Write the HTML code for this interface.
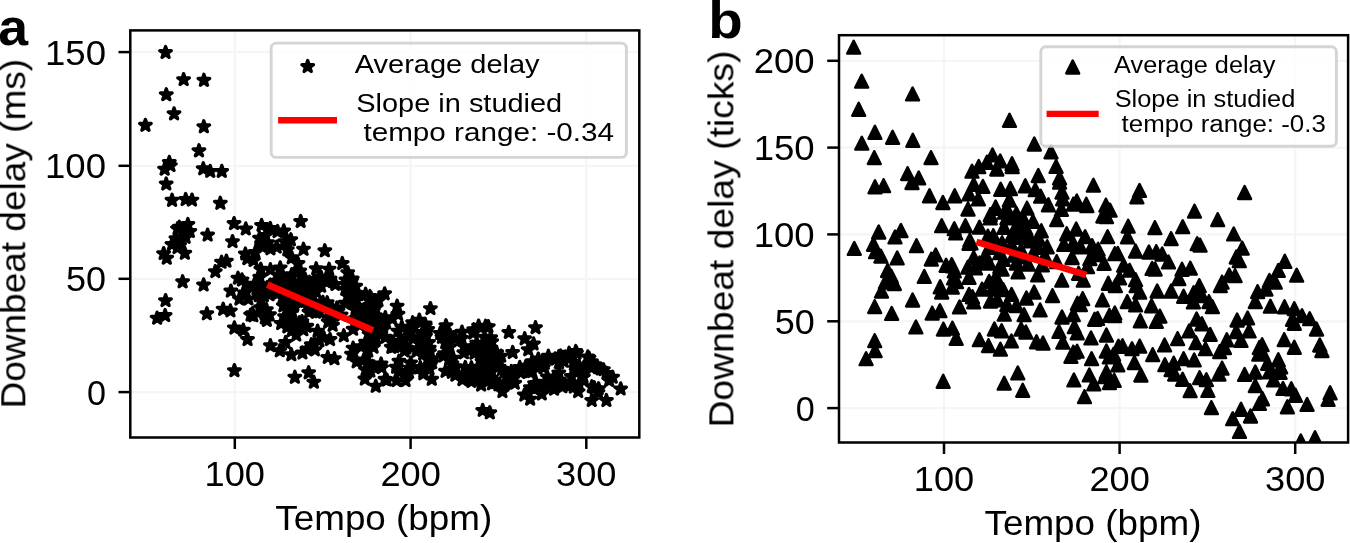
<!DOCTYPE html><html><head><meta charset="utf-8"><title>Downbeat delay vs tempo</title>
<style>html,body{margin:0;padding:0;background:#fff;}svg{display:block;font-family:"Liberation Sans", sans-serif;}text{fill:#000;white-space:pre;}</style></head><body>
<svg width="1350" height="543" viewBox="0 0 1350 543">
<defs><filter id="gs" x="-10%" y="-20%" width="120%" height="140%" color-interpolation-filters="sRGB"><feColorMatrix type="saturate" values="0"/></filter></defs>
<rect width="1350" height="543" fill="#fff"/>
<g id="panelA">
<g stroke="#f5f5f5" stroke-width="2.2">
<line x1="234.8" y1="30.4" x2="234.8" y2="437.5"/>
<line x1="410.6" y1="30.4" x2="410.6" y2="437.5"/>
<line x1="586.3" y1="30.4" x2="586.3" y2="437.5"/>
<line x1="130.3" y1="392.1" x2="639.3" y2="392.1"/>
<line x1="130.3" y1="278.8" x2="639.3" y2="278.8"/>
<line x1="130.3" y1="165.8" x2="639.3" y2="165.8"/>
<line x1="130.3" y1="52.1" x2="639.3" y2="52.1"/>
</g>
<clipPath id="ca"><rect x="130.3" y="30.4" width="509.0" height="407.1"/></clipPath>
<path clip-path="url(#ca)" fill="#000" stroke="#000" stroke-width="3.3" stroke-linejoin="round" d="M165.6 46.5L166.9 50.6L171.3 50.6L167.8 53.2L169.1 57.4L165.6 54.8L162.0 57.4L163.4 53.2L159.8 50.6L164.2 50.6ZM183.6 73.6L185.0 77.8L189.4 77.8L185.8 80.3L187.2 84.5L183.6 81.9L180.1 84.5L181.4 80.3L177.9 77.8L182.3 77.8ZM203.9 74.3L205.3 78.5L209.7 78.5L206.1 81.1L207.5 85.3L203.9 82.7L200.4 85.3L201.7 81.1L198.2 78.5L202.6 78.5ZM166.3 88.7L167.7 92.9L172.1 92.9L168.5 95.5L169.9 99.6L166.3 97.1L162.7 99.6L164.1 95.5L160.5 92.9L164.9 92.9ZM174.1 107.9L175.4 112.0L179.8 112.0L176.3 114.6L177.6 118.8L174.1 116.2L170.5 118.8L171.9 114.6L168.3 112.0L172.7 112.0ZM145.4 119.4L146.8 123.5L151.2 123.5L147.6 126.1L149.0 130.3L145.4 127.7L141.9 130.3L143.2 126.1L139.7 123.5L144.0 123.5ZM203.8 120.8L205.2 125.0L209.6 125.0L206.0 127.5L207.4 131.7L203.8 129.1L200.3 131.7L201.6 127.5L198.1 125.0L202.5 125.0ZM199.0 144.8L200.3 149.0L204.7 149.0L201.2 151.6L202.5 155.8L199.0 153.2L195.4 155.8L196.8 151.6L193.2 149.0L197.6 149.0ZM169.3 156.4L170.7 160.6L175.1 160.6L171.5 163.2L172.9 167.3L169.3 164.8L165.8 167.3L167.1 163.2L163.6 160.6L168.0 160.6ZM164.6 163.1L166.0 167.3L170.4 167.3L166.8 169.9L168.2 174.1L164.6 171.5L161.1 174.1L162.4 169.9L158.9 167.3L163.3 167.3ZM170.5 159.6L171.8 163.8L176.2 163.8L172.7 166.4L174.0 170.5L170.5 168.0L166.9 170.5L168.3 166.4L164.7 163.8L169.1 163.8ZM166.2 178.0L167.6 182.2L172.0 182.2L168.4 184.8L169.8 188.9L166.2 186.4L162.7 188.9L164.0 184.8L160.5 182.2L164.9 182.2ZM203.3 162.7L204.6 166.9L209.0 166.9L205.5 169.5L206.8 173.7L203.3 171.1L199.7 173.7L201.1 169.5L197.5 166.9L201.9 166.9ZM210.2 165.4L211.6 169.6L216.0 169.6L212.4 172.1L213.8 176.3L210.2 173.7L206.7 176.3L208.0 172.1L204.5 169.6L208.9 169.6ZM221.8 165.4L223.1 169.6L227.5 169.6L224.0 172.1L225.3 176.3L221.8 173.7L218.2 176.3L219.6 172.1L216.0 169.6L220.4 169.6ZM172.1 194.3L173.4 198.5L177.8 198.5L174.3 201.1L175.6 205.3L172.1 202.7L168.5 205.3L169.9 201.1L166.3 198.5L170.7 198.5ZM185.7 193.5L187.1 197.7L191.5 197.7L187.9 200.3L189.3 204.5L185.7 201.9L182.1 204.5L183.5 200.3L179.9 197.7L184.3 197.7ZM192.0 194.1L193.3 198.3L197.7 198.3L194.2 200.9L195.5 205.0L192.0 202.5L188.4 205.0L189.8 200.9L186.2 198.3L190.6 198.3ZM220.3 197.3L221.7 201.5L226.1 201.5L222.5 204.1L223.9 208.2L220.3 205.7L216.8 208.2L218.1 204.1L214.6 201.5L219.0 201.5ZM234.1 217.6L235.4 221.7L239.8 221.7L236.3 224.3L237.6 228.5L234.1 225.9L230.5 228.5L231.9 224.3L228.3 221.7L232.7 221.7ZM245.8 222.9L247.2 227.1L251.5 227.1L248.0 229.7L249.3 233.8L245.8 231.3L242.2 233.8L243.6 229.7L240.0 227.1L244.4 227.1ZM207.6 229.1L209.0 233.2L213.4 233.2L209.8 235.8L211.2 240.0L207.6 237.4L204.1 240.0L205.4 235.8L201.9 233.2L206.3 233.2ZM232.5 235.6L233.9 239.8L238.3 239.8L234.7 242.3L236.1 246.5L232.5 243.9L229.0 246.5L230.3 242.3L226.8 239.8L231.2 239.8ZM187.9 218.5L189.3 222.6L193.7 222.6L190.1 225.2L191.5 229.4L187.9 226.8L184.4 229.4L185.7 225.2L182.2 222.6L186.6 222.6ZM179.3 221.3L180.6 225.5L185.0 225.5L181.5 228.0L182.8 232.2L179.3 229.6L175.7 232.2L177.1 228.0L173.5 225.5L177.9 225.5ZM177.6 222.8L178.9 227.0L183.3 227.0L179.8 229.6L181.1 233.8L177.6 231.2L174.0 233.8L175.4 229.6L171.8 227.0L176.2 227.0ZM189.9 225.4L191.2 229.6L195.6 229.6L192.0 232.2L193.4 236.4L189.9 233.8L186.3 236.4L187.7 232.2L184.1 229.6L188.5 229.6ZM182.6 226.2L184.0 230.4L188.3 230.4L184.8 232.9L186.1 237.1L182.6 234.5L179.0 237.1L180.4 232.9L176.8 230.4L181.2 230.4ZM185.6 231.4L186.9 235.5L191.3 235.5L187.8 238.1L189.1 242.3L185.6 239.7L182.0 242.3L183.4 238.1L179.8 235.5L184.2 235.5ZM175.9 232.8L177.3 237.0L181.7 237.0L178.1 239.6L179.5 243.8L175.9 241.2L172.4 243.8L173.7 239.6L170.2 237.0L174.6 237.0ZM172.0 238.4L173.4 242.6L177.8 242.6L174.2 245.2L175.6 249.3L172.0 246.8L168.4 249.3L169.8 245.2L166.2 242.6L170.6 242.6ZM179.6 239.5L181.0 243.7L185.4 243.7L181.8 246.3L183.2 250.5L179.6 247.9L176.1 250.5L177.4 246.3L173.9 243.7L178.3 243.7ZM163.7 247.6L165.1 251.8L169.5 251.8L165.9 254.3L167.3 258.5L163.7 255.9L160.1 258.5L161.5 254.3L157.9 251.8L162.3 251.8ZM184.8 247.2L186.2 251.4L190.6 251.4L187.0 254.0L188.4 258.2L184.8 255.6L181.3 258.2L182.6 254.0L179.1 251.4L183.5 251.4ZM166.7 252.2L168.1 256.4L172.5 256.4L168.9 258.9L170.3 263.1L166.7 260.5L163.2 263.1L164.5 258.9L161.0 256.4L165.4 256.4ZM177.6 241.5L178.9 245.7L183.3 245.7L179.8 248.3L181.1 252.5L177.6 249.9L174.0 252.5L175.4 248.3L171.8 245.7L176.2 245.7ZM245.4 248.0L246.7 252.2L251.1 252.2L247.6 254.8L248.9 258.9L245.4 256.4L241.8 258.9L243.2 254.8L239.6 252.2L244.0 252.2ZM247.3 252.6L248.7 256.8L253.1 256.8L249.5 259.4L250.9 263.6L247.3 261.0L243.8 263.6L245.1 259.4L241.6 256.8L246.0 256.8ZM221.6 256.3L222.9 260.4L227.3 260.4L223.8 263.0L225.1 267.2L221.6 264.6L218.0 267.2L219.4 263.0L215.8 260.4L220.2 260.4ZM226.4 255.1L227.8 259.3L232.2 259.3L228.6 261.9L230.0 266.1L226.4 263.5L222.9 266.1L224.2 261.9L220.7 259.3L225.1 259.3ZM215.3 265.6L216.7 269.8L221.1 269.8L217.5 272.4L218.9 276.5L215.3 274.0L211.8 276.5L213.1 272.4L209.6 269.8L214.0 269.8ZM182.6 275.8L184.0 280.0L188.4 280.0L184.8 282.6L186.2 286.8L182.6 284.2L179.1 286.8L180.4 282.6L176.9 280.0L181.3 280.0ZM203.6 278.9L205.0 283.1L209.4 283.1L205.8 285.7L207.2 289.9L203.6 287.3L200.0 289.9L201.4 285.7L197.8 283.1L202.2 283.1ZM238.0 272.2L239.4 276.4L243.8 276.4L240.2 278.9L241.6 283.1L238.0 280.5L234.4 283.1L235.8 278.9L232.2 276.4L236.6 276.4ZM242.0 273.9L243.4 278.1L247.8 278.1L244.2 280.7L245.6 284.9L242.0 282.3L238.4 284.9L239.8 280.7L236.2 278.1L240.6 278.1ZM230.9 285.1L232.2 289.2L236.6 289.2L233.1 291.8L234.4 296.0L230.9 293.4L227.3 296.0L228.7 291.8L225.1 289.2L229.5 289.2ZM165.6 294.6L166.9 298.8L171.3 298.8L167.8 301.3L169.1 305.5L165.6 302.9L162.0 305.5L163.4 301.3L159.8 298.8L164.2 298.8ZM165.1 309.5L166.5 313.7L170.9 313.7L167.3 316.3L168.7 320.5L165.1 317.9L161.6 320.5L162.9 316.3L159.4 313.7L163.8 313.7ZM157.1 312.2L158.5 316.4L162.9 316.4L159.3 318.9L160.7 323.1L157.1 320.5L153.6 323.1L154.9 318.9L151.4 316.4L155.8 316.4ZM206.9 307.7L208.2 311.9L212.6 311.9L209.1 314.5L210.4 318.7L206.9 316.1L203.3 318.7L204.7 314.5L201.1 311.9L205.5 311.9ZM223.2 303.3L224.5 307.5L228.9 307.5L225.4 310.0L226.7 314.2L223.2 311.6L219.6 314.2L221.0 310.0L217.4 307.5L221.8 307.5ZM230.4 304.9L231.8 309.1L236.2 309.1L232.6 311.6L234.0 315.8L230.4 313.2L226.9 315.8L228.2 311.6L224.7 309.1L229.1 309.1ZM250.6 309.1L252.0 313.2L256.4 313.2L252.8 315.8L254.2 320.0L250.6 317.4L247.1 320.0L248.4 315.8L244.9 313.2L249.3 313.2ZM234.4 321.9L235.8 326.1L240.2 326.1L236.6 328.7L238.0 332.9L234.4 330.3L230.9 332.9L232.2 328.7L228.7 326.1L233.1 326.1ZM243.3 324.2L244.7 328.4L249.1 328.4L245.5 330.9L246.9 335.1L243.3 332.5L239.8 335.1L241.1 330.9L237.6 328.4L242.0 328.4ZM247.5 333.5L248.9 337.7L253.3 337.7L249.7 340.3L251.1 344.5L247.5 341.9L244.0 344.5L245.3 340.3L241.8 337.7L246.2 337.7ZM234.4 364.6L235.8 368.8L240.2 368.8L236.6 371.4L238.0 375.6L234.4 373.0L230.9 375.6L232.2 371.4L228.7 368.8L233.1 368.8ZM300.7 215.5L302.0 219.6L306.4 219.6L302.9 222.2L304.2 226.4L300.7 223.8L297.1 226.4L298.5 222.2L294.9 219.6L299.3 219.6ZM261.6 219.4L262.9 223.6L267.3 223.6L263.8 226.1L265.1 230.3L261.6 227.7L258.0 230.3L259.4 226.1L255.8 223.6L260.2 223.6ZM270.3 222.5L271.6 226.7L276.0 226.7L272.5 229.2L273.8 233.4L270.3 230.8L266.7 233.4L268.1 229.2L264.5 226.7L268.9 226.7ZM277.6 225.5L278.9 229.7L283.3 229.7L279.8 232.3L281.1 236.5L277.6 233.9L274.0 236.5L275.4 232.3L271.8 229.7L276.2 229.7ZM283.8 224.9L285.1 229.1L289.5 229.1L286.0 231.6L287.3 235.8L283.8 233.2L280.2 235.8L281.6 231.6L278.0 229.1L282.4 229.1ZM290.9 233.8L292.2 238.0L296.6 238.0L293.1 240.5L294.4 244.7L290.9 242.1L287.3 244.7L288.7 240.5L285.1 238.0L289.5 238.0ZM259.5 232.2L260.9 236.4L265.3 236.4L261.7 238.9L263.1 243.1L259.5 240.5L256.0 243.1L257.3 238.9L253.8 236.4L258.2 236.4ZM265.6 229.5L266.9 233.7L271.3 233.7L267.8 236.3L269.1 240.5L265.6 237.9L262.0 240.5L263.4 236.3L259.8 233.7L264.2 233.7ZM267.8 236.6L269.1 240.8L273.5 240.8L270.0 243.4L271.3 247.6L267.8 245.0L264.2 247.6L265.6 243.4L262.0 240.8L266.4 240.8ZM261.6 240.2L262.9 244.4L267.3 244.4L263.8 246.9L265.1 251.1L261.6 248.5L258.0 251.1L259.4 246.9L255.8 244.4L260.2 244.4ZM284.7 235.7L286.0 239.9L290.4 239.9L286.9 242.5L288.2 246.7L284.7 244.1L281.1 246.7L282.5 242.5L278.9 239.9L283.3 239.9ZM276.7 241.1L278.0 245.2L282.4 245.2L278.9 247.8L280.2 252.0L276.7 249.4L273.1 252.0L274.5 247.8L270.9 245.2L275.3 245.2ZM287.3 243.7L288.7 247.9L293.1 247.9L289.5 250.5L290.9 254.7L287.3 252.1L283.8 254.7L285.1 250.5L281.6 247.9L286.0 247.9ZM303.5 243.3L304.9 247.5L309.3 247.5L305.7 250.0L307.1 254.2L303.5 251.6L300.0 254.2L301.3 250.0L297.8 247.5L302.2 247.5ZM324.8 244.8L326.2 249.0L330.6 249.0L327.0 251.6L328.4 255.7L324.8 253.2L321.3 255.7L322.6 251.6L319.1 249.0L323.5 249.0ZM342.3 257.5L343.6 261.7L348.0 261.7L344.5 264.3L345.8 268.5L342.3 265.9L338.7 268.5L340.1 264.3L336.5 261.7L340.9 261.7ZM316.2 262.8L317.6 267.0L322.0 267.0L318.4 269.6L319.8 273.8L316.2 271.2L312.7 273.8L314.0 269.6L310.5 267.0L314.9 267.0ZM329.1 263.3L330.5 267.5L334.9 267.5L331.3 270.0L332.7 274.2L329.1 271.6L325.6 274.2L326.9 270.0L323.4 267.5L327.8 267.5ZM291.8 251.7L293.1 255.9L297.5 255.9L294.0 258.5L295.3 262.7L291.8 260.1L288.2 262.7L289.6 258.5L286.0 255.9L290.4 255.9ZM270.4 263.7L271.8 267.9L276.2 267.9L272.6 270.5L274.0 274.7L270.4 272.1L266.9 274.7L268.2 270.5L264.7 267.9L269.1 267.9ZM280.2 261.9L281.6 266.1L286.0 266.1L282.4 268.7L283.8 272.9L280.2 270.3L276.7 272.9L278.0 268.7L274.5 266.1L278.9 266.1ZM298.0 257.5L299.4 261.7L303.8 261.7L300.2 264.3L301.6 268.5L298.0 265.9L294.4 268.5L295.8 264.3L292.2 261.7L296.6 261.7ZM347.8 266.8L349.1 271.0L353.5 271.0L350.0 273.6L351.3 277.8L347.8 275.2L344.2 277.8L345.6 273.6L342.0 271.0L346.4 271.0ZM352.2 273.1L353.6 277.2L358.0 277.2L354.4 279.8L355.8 284.0L352.2 281.4L348.7 284.0L350.0 279.8L346.5 277.2L350.9 277.2ZM355.8 280.2L357.1 284.4L361.5 284.4L358.0 286.9L359.3 291.1L355.8 288.5L352.2 291.1L353.6 286.9L350.0 284.4L354.4 284.4ZM260.8 263.3L262.2 267.5L266.6 267.5L263.0 270.0L264.4 274.2L260.8 271.6L257.3 274.2L258.6 270.0L255.1 267.5L259.5 267.5ZM261.6 237.5L262.9 241.7L267.3 241.7L263.8 244.3L265.1 248.5L261.6 245.9L258.0 248.5L259.4 244.3L255.8 241.7L260.2 241.7ZM270.4 242.8L271.8 247.0L276.2 247.0L272.6 249.6L274.0 253.8L270.4 251.2L266.9 253.8L268.2 249.6L264.7 247.0L269.1 247.0ZM287.3 235.7L288.7 239.9L293.1 239.9L289.5 242.5L290.9 246.7L287.3 244.1L283.8 246.7L285.1 242.5L281.6 239.9L286.0 239.9ZM255.3 246.4L256.7 250.6L261.1 250.6L257.5 253.2L258.9 257.3L255.3 254.8L251.8 257.3L253.1 253.2L249.6 250.6L254.0 250.6ZM253.6 254.4L254.9 258.6L259.3 258.6L255.8 261.2L257.1 265.3L253.6 262.8L250.0 265.3L251.4 261.2L247.8 258.6L252.2 258.6ZM299.8 265.1L301.1 269.2L305.5 269.2L302.0 271.8L303.3 276.0L299.8 273.4L296.2 276.0L297.6 271.8L294.0 269.2L298.4 269.2ZM291.8 268.6L293.1 272.8L297.5 272.8L294.0 275.4L295.3 279.6L291.8 277.0L288.2 279.6L289.6 275.4L286.0 272.8L290.4 272.8ZM281.1 269.5L282.5 273.7L286.9 273.7L283.3 276.3L284.7 280.5L281.1 277.9L277.6 280.5L278.9 276.3L275.4 273.7L279.8 273.7ZM305.1 273.1L306.5 277.2L310.9 277.2L307.3 279.8L308.7 284.0L305.1 281.4L301.6 284.0L302.9 279.8L299.4 277.2L303.8 277.2ZM314.0 274.8L315.4 279.0L319.8 279.0L316.2 281.6L317.6 285.8L314.0 283.2L310.4 285.8L311.8 281.6L308.2 279.0L312.6 279.0ZM321.1 271.3L322.5 275.5L326.9 275.5L323.3 278.0L324.7 282.2L321.1 279.6L317.6 282.2L318.9 278.0L315.4 275.5L319.8 275.5ZM330.0 273.1L331.4 277.2L335.8 277.2L332.2 279.8L333.6 284.0L330.0 281.4L326.4 284.0L327.8 279.8L324.2 277.2L328.6 277.2ZM335.3 278.4L336.7 282.6L341.1 282.6L337.5 285.2L338.9 289.3L335.3 286.8L331.8 289.3L333.1 285.2L329.6 282.6L334.0 282.6ZM259.8 271.3L261.1 275.5L265.5 275.5L262.0 278.0L263.3 282.2L259.8 279.6L256.2 282.2L257.6 278.0L254.0 275.5L258.4 275.5ZM254.4 278.4L255.8 282.6L260.2 282.6L256.6 285.2L258.0 289.3L254.4 286.8L250.9 289.3L252.2 285.2L248.7 282.6L253.1 282.6ZM276.7 275.7L278.0 279.9L282.4 279.9L278.9 282.5L280.2 286.7L276.7 284.1L273.1 286.7L274.5 282.5L270.9 279.9L275.3 279.9ZM290.0 276.6L291.4 280.8L295.8 280.8L292.2 283.4L293.6 287.6L290.0 285.0L286.4 287.6L287.8 283.4L284.2 280.8L288.6 280.8ZM312.2 280.2L313.6 284.4L318.0 284.4L314.4 286.9L315.8 291.1L312.2 288.5L308.7 291.1L310.0 286.9L306.5 284.4L310.9 284.4ZM321.1 280.2L322.5 284.4L326.9 284.4L323.3 286.9L324.7 291.1L321.1 288.5L317.6 291.1L318.9 286.9L315.4 284.4L319.8 284.4ZM346.0 273.9L347.4 278.1L351.8 278.1L348.2 280.7L349.6 284.9L346.0 282.3L342.4 284.9L343.8 280.7L340.2 278.1L344.6 278.1ZM270.4 339.7L271.8 343.9L276.2 343.9L272.6 346.5L274.0 350.7L270.4 348.1L266.9 350.7L268.2 346.5L264.7 343.9L269.1 343.9ZM279.8 344.7L281.1 348.9L285.5 348.9L282.0 351.5L283.3 355.7L279.8 353.1L276.2 355.7L277.6 351.5L274.0 348.9L278.4 348.9ZM285.6 336.5L286.9 340.7L291.3 340.7L287.8 343.3L289.1 347.5L285.6 344.9L282.0 347.5L283.4 343.3L279.8 340.7L284.2 340.7ZM291.3 348.7L292.7 352.9L297.1 352.9L293.5 355.5L294.9 359.7L291.3 357.1L287.8 359.7L289.1 355.5L285.6 352.9L290.0 352.9ZM302.4 346.9L303.8 351.1L308.2 351.1L304.6 353.7L306.0 357.9L302.4 355.3L298.9 357.9L300.2 353.7L296.7 351.1L301.1 351.1ZM296.2 329.1L297.6 333.2L302.0 333.2L298.4 335.8L299.8 340.0L296.2 337.4L292.7 340.0L294.0 335.8L290.5 333.2L294.9 333.2ZM303.3 323.7L304.7 327.9L309.1 327.9L305.5 330.5L306.9 334.7L303.3 332.1L299.8 334.7L301.1 330.5L297.6 327.9L302.0 327.9ZM314.9 343.8L316.2 348.0L320.6 348.0L317.1 350.6L318.4 354.8L314.9 352.2L311.3 354.8L312.7 350.6L309.1 348.0L313.5 348.0ZM327.8 351.4L329.1 355.6L333.5 355.6L330.0 358.1L331.3 362.3L327.8 359.7L324.2 362.3L325.6 358.1L322.0 355.6L326.4 355.6ZM334.4 352.7L335.8 356.9L340.2 356.9L336.6 359.5L338.0 363.7L334.4 361.1L330.9 363.7L332.2 359.5L328.7 356.9L333.1 356.9ZM317.6 325.1L318.9 329.3L323.3 329.3L319.8 331.9L321.1 336.1L317.6 333.5L314.0 336.1L315.4 331.9L311.8 329.3L316.2 329.3ZM323.8 331.7L325.1 335.9L329.5 335.9L326.0 338.5L327.3 342.7L323.8 340.1L320.2 342.7L321.6 338.5L318.0 335.9L322.4 335.9ZM330.0 333.5L331.4 337.7L335.8 337.7L332.2 340.3L333.6 344.5L330.0 341.9L326.4 344.5L327.8 340.3L324.2 337.7L328.6 337.7ZM319.3 334.8L320.7 339.0L325.1 339.0L321.5 341.6L322.9 345.8L319.3 343.2L315.8 345.8L317.1 341.6L313.6 339.0L318.0 339.0ZM343.8 329.8L345.1 334.0L349.5 334.0L346.0 336.5L347.3 340.7L343.8 338.1L340.2 340.7L341.6 336.5L338.0 334.0L342.4 334.0ZM353.1 323.3L354.5 327.5L358.9 327.5L355.3 330.0L356.7 334.2L353.1 331.6L349.6 334.2L350.9 330.0L347.4 327.5L351.8 327.5ZM353.1 342.2L354.5 346.4L358.9 346.4L355.3 349.0L356.7 353.2L353.1 350.6L349.6 353.2L350.9 349.0L347.4 346.4L351.8 346.4ZM351.5 348.2L352.9 352.4L357.3 352.4L353.7 354.9L355.1 359.1L351.5 356.5L348.0 359.1L349.3 354.9L345.8 352.4L350.2 352.4ZM361.1 340.6L362.5 344.8L366.9 344.8L363.3 347.4L364.7 351.6L361.1 349.0L357.6 351.6L358.9 347.4L355.4 344.8L359.8 344.8ZM365.6 336.2L366.9 340.4L371.3 340.4L367.8 342.9L369.1 347.1L365.6 344.5L362.0 347.1L363.4 342.9L359.8 340.4L364.2 340.4ZM368.2 345.1L369.6 349.2L374.0 349.2L370.4 351.8L371.8 356.0L368.2 353.4L364.7 356.0L366.0 351.8L362.5 349.2L366.9 349.2ZM356.7 355.7L358.0 359.9L362.4 359.9L358.9 362.5L360.2 366.7L356.7 364.1L353.1 366.7L354.5 362.5L350.9 359.9L355.3 359.9ZM363.8 353.9L365.1 358.1L369.5 358.1L366.0 360.7L367.3 364.9L363.8 362.3L360.2 364.9L361.6 360.7L358.0 358.1L362.4 358.1ZM368.2 356.6L369.6 360.8L374.0 360.8L370.4 363.4L371.8 367.6L368.2 365.0L364.7 367.6L366.0 363.4L362.5 360.8L366.9 360.8ZM266.9 314.4L268.2 318.6L272.6 318.6L269.1 321.2L270.4 325.3L266.9 322.8L263.3 325.3L264.7 321.2L261.1 318.6L265.5 318.6ZM281.1 317.5L282.5 321.7L286.9 321.7L283.3 324.3L284.7 328.5L281.1 325.9L277.6 328.5L278.9 324.3L275.4 321.7L279.8 321.7ZM290.0 316.6L291.4 320.8L295.8 320.8L292.2 323.4L293.6 327.6L290.0 325.0L286.4 327.6L287.8 323.4L284.2 320.8L288.6 320.8ZM299.8 318.4L301.1 322.6L305.5 322.6L302.0 325.2L303.3 329.3L299.8 326.8L296.2 329.3L297.6 325.2L294.0 322.6L298.4 322.6ZM306.9 320.2L308.2 324.4L312.6 324.4L309.1 326.9L310.4 331.1L306.9 328.5L303.3 331.1L304.7 326.9L301.1 324.4L305.5 324.4ZM328.2 315.7L329.6 319.9L334.0 319.9L330.4 322.5L331.8 326.7L328.2 324.1L324.7 326.7L326.0 322.5L322.5 319.9L326.9 319.9ZM332.7 319.3L334.0 323.5L338.4 323.5L334.9 326.0L336.2 330.2L332.7 327.6L329.1 330.2L330.5 326.0L326.9 323.5L331.3 323.5ZM308.7 366.8L310.0 370.9L314.4 370.9L310.9 373.5L312.2 377.7L308.7 375.1L305.1 377.7L306.5 373.5L302.9 370.9L307.3 370.9ZM369.1 328.2L370.5 332.4L374.9 332.4L371.3 334.9L372.7 339.1L369.1 336.5L365.6 339.1L366.9 334.9L363.4 332.4L367.8 332.4ZM291.8 324.6L293.1 328.8L297.5 328.8L294.0 331.4L295.3 335.6L291.8 333.0L288.2 335.6L289.6 331.4L286.0 328.8L290.4 328.8ZM311.3 338.8L312.7 343.0L317.1 343.0L313.5 345.6L314.9 349.8L311.3 347.2L307.8 349.8L309.1 345.6L305.6 343.0L310.0 343.0ZM306.9 343.3L308.2 347.5L312.6 347.5L309.1 350.0L310.4 354.2L306.9 351.6L303.3 354.2L304.7 350.0L301.1 347.5L305.5 347.5ZM294.9 371.3L296.2 375.5L300.6 375.5L297.1 378.0L298.4 382.2L294.9 379.6L291.3 382.2L292.7 378.0L289.1 375.5L293.5 375.5ZM313.8 376.2L315.2 380.4L319.6 380.4L316.0 382.9L317.4 387.1L313.8 384.5L310.3 387.1L311.6 382.9L308.1 380.4L312.5 380.4ZM364.8 373.1L366.2 377.2L370.6 377.2L367.0 379.8L368.4 384.0L364.8 381.4L361.3 384.0L362.6 379.8L359.1 377.2L363.5 377.2ZM365.6 363.7L366.9 367.9L371.3 367.9L367.8 370.5L369.1 374.7L365.6 372.1L362.0 374.7L363.4 370.5L359.8 367.9L364.2 367.9ZM369.1 359.3L370.5 363.5L374.9 363.5L371.3 366.0L372.7 370.2L369.1 367.6L365.6 370.2L366.9 366.0L363.4 363.5L367.8 363.5ZM384.7 287.9L386.0 292.0L390.4 292.0L386.9 294.6L388.2 298.8L384.7 296.2L381.1 298.8L382.5 294.6L378.9 292.0L383.3 292.0ZM397.1 300.2L398.5 304.4L402.9 304.4L399.3 307.0L400.7 311.1L397.1 308.6L393.6 311.1L394.9 307.0L391.4 304.4L395.8 304.4ZM430.4 302.6L431.8 306.8L436.2 306.8L432.6 309.4L434.0 313.5L430.4 311.0L426.9 313.5L428.2 309.4L424.7 306.8L429.1 306.8ZM446.0 319.7L447.4 323.8L451.8 323.8L448.2 326.4L449.6 330.6L446.0 328.0L442.4 330.6L443.8 326.4L440.2 323.8L444.6 323.8ZM462.0 326.1L463.4 330.3L467.8 330.3L464.2 332.9L465.6 337.1L462.0 334.5L458.4 337.1L459.8 332.9L456.2 330.3L460.6 330.3ZM473.8 323.7L475.2 327.8L479.6 327.8L476.0 330.4L477.4 334.6L473.8 332.0L470.3 334.6L471.6 330.4L468.1 327.8L472.5 327.8ZM485.6 320.2L486.9 324.4L491.3 324.4L487.8 327.0L489.1 331.1L485.6 328.6L482.0 331.1L483.4 327.0L479.8 324.4L484.2 324.4ZM419.3 314.1L420.7 318.3L425.1 318.3L421.5 320.9L422.9 325.1L419.3 322.5L415.8 325.1L417.1 320.9L413.6 318.3L418.0 318.3ZM378.4 294.5L379.8 298.7L384.2 298.7L380.6 301.3L382.0 305.5L378.4 302.9L374.9 305.5L376.2 301.3L372.7 298.7L377.1 298.7ZM370.0 290.5L371.4 294.7L375.8 294.7L372.2 297.3L373.6 301.5L370.0 298.9L366.4 301.5L367.8 297.3L364.2 294.7L368.6 294.7ZM398.0 308.3L399.4 312.5L403.8 312.5L400.2 315.0L401.6 319.2L398.0 316.6L394.4 319.2L395.8 315.0L392.2 312.5L396.6 312.5ZM375.3 302.1L376.7 306.2L381.1 306.2L377.5 308.8L378.9 313.0L375.3 310.4L371.8 313.0L373.1 308.8L369.6 306.2L374.0 306.2ZM412.7 316.7L414.0 320.9L418.4 320.9L414.9 323.5L416.2 327.7L412.7 325.1L409.1 327.7L410.5 323.5L406.9 320.9L411.3 320.9ZM425.1 318.1L426.5 322.2L430.9 322.2L427.3 324.8L428.7 329.0L425.1 326.4L421.6 329.0L422.9 324.8L419.4 322.2L423.8 322.2ZM427.8 323.4L429.1 327.6L433.5 327.6L430.0 330.2L431.3 334.3L427.8 331.8L424.2 334.3L425.6 330.2L422.0 327.6L426.4 327.6ZM440.2 327.4L441.6 331.6L446.0 331.6L442.4 334.2L443.8 338.3L440.2 335.8L436.7 338.3L438.0 334.2L434.5 331.6L438.9 331.6ZM450.0 328.7L451.4 332.9L455.8 332.9L452.2 335.5L453.6 339.7L450.0 337.1L446.4 339.7L447.8 335.5L444.2 332.9L448.6 332.9ZM392.2 312.7L393.6 316.9L398.0 316.9L394.4 319.5L395.8 323.7L392.2 321.1L388.7 323.7L390.0 319.5L386.5 316.9L390.9 316.9ZM375.8 380.3L377.1 384.5L381.5 384.5L378.0 387.0L379.3 391.2L375.8 388.6L372.2 391.2L373.6 387.0L370.0 384.5L374.4 384.5ZM386.9 374.1L388.2 378.2L392.6 378.2L389.1 380.8L390.4 385.0L386.9 382.4L383.3 385.0L384.7 380.8L381.1 378.2L385.5 378.2ZM396.7 374.6L398.0 378.8L402.4 378.8L398.9 381.4L400.2 385.5L396.7 383.0L393.1 385.5L394.5 381.4L390.9 378.8L395.3 378.8ZM405.6 374.6L406.9 378.8L411.3 378.8L407.8 381.4L409.1 385.5L405.6 383.0L402.0 385.5L403.4 381.4L399.8 378.8L404.2 378.8ZM423.3 367.8L424.7 372.0L429.1 372.0L425.5 374.6L426.9 378.8L423.3 376.2L419.8 378.8L421.1 374.6L417.6 372.0L422.0 372.0ZM431.8 373.3L433.1 377.4L437.5 377.4L434.0 380.0L435.3 384.2L431.8 381.6L428.2 384.2L429.6 380.0L426.0 377.4L430.4 377.4ZM445.6 365.3L446.9 369.4L451.3 369.4L447.8 372.0L449.1 376.2L445.6 373.6L442.0 376.2L443.4 372.0L439.8 369.4L444.2 369.4ZM455.3 369.2L456.7 373.4L461.1 373.4L457.5 375.9L458.9 380.1L455.3 377.5L451.8 380.1L453.1 375.9L449.6 373.4L454.0 373.4ZM462.4 373.6L463.8 377.8L468.2 377.8L464.6 380.4L466.0 384.6L462.4 382.0L458.9 384.6L460.2 380.4L456.7 377.8L461.1 377.8ZM471.3 375.4L472.7 379.6L477.1 379.6L473.5 382.2L474.9 386.3L471.3 383.8L467.8 386.3L469.1 382.2L465.6 379.6L470.0 379.6ZM481.1 379.0L482.5 383.2L486.9 383.2L483.3 385.8L484.7 390.0L481.1 387.4L477.6 390.0L478.9 385.8L475.4 383.2L479.8 383.2ZM488.2 374.9L489.6 379.1L494.0 379.1L490.4 381.7L491.8 385.9L488.2 383.3L484.7 385.9L486.0 381.7L482.5 379.1L486.9 379.1ZM482.7 404.4L484.1 408.6L488.5 408.6L484.9 411.1L486.3 415.3L482.7 412.7L479.2 415.3L480.5 411.1L477.0 408.6L481.4 408.6ZM535.5 321.7L536.9 325.9L541.3 325.9L537.7 328.4L539.1 332.6L535.5 330.0L532.0 332.6L533.3 328.4L529.8 325.9L534.2 325.9ZM508.8 326.4L510.2 330.6L514.6 330.6L511.0 333.2L512.4 337.3L508.8 334.8L505.3 337.3L506.6 333.2L503.1 330.6L507.5 330.6ZM524.7 332.8L526.0 337.0L530.4 337.0L526.9 339.6L528.2 343.7L524.7 341.2L521.1 343.7L522.5 339.6L518.9 337.0L523.3 337.0ZM533.6 337.9L534.9 342.1L539.3 342.1L535.8 344.7L537.1 348.9L533.6 346.3L530.0 348.9L531.4 344.7L527.8 342.1L532.2 342.1ZM490.7 331.7L492.1 335.9L496.5 335.9L492.9 338.5L494.3 342.7L490.7 340.1L487.2 342.7L488.5 338.5L485.0 335.9L489.4 335.9ZM490.9 341.9L492.2 346.1L496.6 346.1L493.1 348.7L494.4 352.9L490.9 350.3L487.3 352.9L488.7 348.7L485.1 346.1L489.5 346.1ZM512.7 346.5L514.0 350.7L518.4 350.7L514.9 353.2L516.2 357.4L512.7 354.8L509.1 357.4L510.5 353.2L506.9 350.7L511.3 350.7ZM569.1 347.3L570.5 351.5L574.9 351.5L571.3 354.0L572.7 358.2L569.1 355.6L565.6 358.2L566.9 354.0L563.4 351.5L567.8 351.5ZM575.8 345.5L577.1 349.7L581.5 349.7L578.0 352.3L579.3 356.5L575.8 353.9L572.2 356.5L573.6 352.3L570.0 349.7L574.4 349.7ZM528.2 343.7L529.6 347.9L534.0 347.9L530.4 350.5L531.8 354.7L528.2 352.1L524.7 354.7L526.0 350.5L522.5 347.9L526.9 347.9ZM549.1 352.7L550.5 356.9L554.9 356.9L551.3 359.5L552.7 363.7L549.1 361.1L545.6 363.7L546.9 359.5L543.4 356.9L547.8 356.9ZM555.3 353.1L556.7 357.3L561.1 357.3L557.5 359.9L558.9 364.1L555.3 361.5L551.8 364.1L553.1 359.9L549.6 357.3L554.0 357.3ZM560.7 350.0L562.0 354.2L566.4 354.2L562.9 356.8L564.2 361.0L560.7 358.4L557.1 361.0L558.5 356.8L554.9 354.2L559.3 354.2ZM587.8 350.9L589.1 355.1L593.5 355.1L590.0 357.7L591.3 361.9L587.8 359.3L584.2 361.9L585.6 357.7L582.0 355.1L586.4 355.1ZM600.7 362.9L602.0 367.1L606.4 367.1L602.9 369.7L604.2 373.9L600.7 371.3L597.1 373.9L598.5 369.7L594.9 367.1L599.3 367.1ZM606.4 367.4L607.8 371.6L612.2 371.6L608.6 374.1L610.0 378.3L606.4 375.7L602.9 378.3L604.2 374.1L600.7 371.6L605.1 371.6ZM491.8 335.7L493.1 339.9L497.5 339.9L494.0 342.5L495.3 346.7L491.8 344.1L488.2 346.7L489.6 342.5L486.0 339.9L490.4 339.9ZM489.8 406.8L491.2 411.0L495.6 411.0L492.0 413.6L493.4 417.8L489.8 415.2L486.3 417.8L487.6 413.6L484.1 411.0L488.5 411.0ZM502.4 385.6L503.8 389.8L508.2 389.8L504.6 392.4L506.0 396.5L502.4 394.0L498.9 396.5L500.2 392.4L496.7 389.8L501.1 389.8ZM511.3 374.8L512.7 379.0L517.1 379.0L513.5 381.6L514.9 385.8L511.3 383.2L507.8 385.8L509.1 381.6L505.6 379.0L510.0 379.0ZM524.4 389.1L525.8 393.2L530.2 393.2L526.6 395.8L528.0 400.0L524.4 397.4L520.8 400.0L522.2 395.8L518.6 393.2L523.0 393.2ZM530.2 393.1L531.5 397.3L535.9 397.3L532.4 399.9L533.7 404.1L530.2 401.5L526.6 404.1L528.0 399.9L524.4 397.3L528.8 397.3ZM541.7 388.0L543.1 392.2L547.5 392.2L543.9 394.8L545.3 398.9L541.7 396.4L538.2 398.9L539.5 394.8L536.0 392.2L540.4 392.2ZM554.0 383.2L555.4 387.4L559.8 387.4L556.2 390.0L557.6 394.1L554.0 391.6L550.4 394.1L551.8 390.0L548.2 387.4L552.6 387.4ZM578.2 385.6L579.5 389.8L583.9 389.8L580.4 392.4L581.7 396.5L578.2 394.0L574.6 396.5L576.0 392.4L572.4 389.8L576.8 389.8ZM598.6 382.7L600.0 386.8L604.4 386.8L600.8 389.4L602.2 393.6L598.6 391.0L595.1 393.6L596.4 389.4L592.9 386.8L597.3 386.8ZM591.8 394.5L593.1 398.7L597.5 398.7L594.0 401.2L595.3 405.4L591.8 402.8L588.2 405.4L589.6 401.2L586.0 398.7L590.4 398.7ZM606.4 394.5L607.8 398.7L612.2 398.7L608.6 401.2L610.0 405.4L606.4 402.8L602.9 405.4L604.2 401.2L600.7 398.7L605.1 398.7ZM609.1 374.4L610.5 378.6L614.9 378.6L611.3 381.2L612.7 385.3L609.1 382.8L605.6 385.3L606.9 381.2L603.4 378.6L607.8 378.6ZM495.3 376.6L496.7 380.8L501.1 380.8L497.5 383.4L498.9 387.6L495.3 385.0L491.8 387.6L493.1 383.4L489.6 380.8L494.0 380.8ZM504.2 377.5L505.6 381.7L510.0 381.7L506.4 384.3L507.8 388.5L504.2 385.9L500.7 388.5L502.0 384.3L498.5 381.7L502.9 381.7ZM536.2 377.5L537.6 381.7L542.0 381.7L538.4 384.3L539.8 388.5L536.2 385.9L532.7 388.5L534.0 384.3L530.5 381.7L534.9 381.7ZM545.1 379.3L546.5 383.5L550.9 383.5L547.3 386.0L548.7 390.2L545.1 387.6L541.6 390.2L542.9 386.0L539.4 383.5L543.8 383.5ZM552.2 376.6L553.6 380.8L558.0 380.8L554.4 383.4L555.8 387.6L552.2 385.0L548.7 387.6L550.0 383.4L546.5 380.8L550.9 380.8ZM561.1 378.4L562.5 382.6L566.9 382.6L563.3 385.2L564.7 389.3L561.1 386.8L557.6 389.3L558.9 385.2L555.4 382.6L559.8 382.6ZM570.0 379.3L571.4 383.5L575.8 383.5L572.2 386.0L573.6 390.2L570.0 387.6L566.4 390.2L567.8 386.0L564.2 383.5L568.6 383.5ZM578.9 378.4L580.2 382.6L584.6 382.6L581.1 385.2L582.4 389.3L578.9 386.8L575.3 389.3L576.7 385.2L573.1 382.6L577.5 382.6ZM534.4 382.8L535.8 387.0L540.2 387.0L536.6 389.6L538.0 393.8L534.4 391.2L530.9 393.8L532.2 389.6L528.7 387.0L533.1 387.0ZM612.7 371.3L614.0 375.5L618.4 375.5L614.9 378.0L616.2 382.2L612.7 379.6L609.1 382.2L610.5 378.0L606.9 375.5L611.3 375.5ZM620.7 382.9L622.0 387.1L626.4 387.1L622.9 389.7L624.2 393.9L620.7 391.3L617.1 393.9L618.5 389.7L614.9 387.1L619.3 387.1ZM598.0 386.4L599.4 390.6L603.8 390.6L600.2 393.2L601.6 397.3L598.0 394.8L594.4 397.3L595.8 393.2L592.2 390.6L596.6 390.6ZM246.1 278.2L247.5 282.4L251.9 282.4L248.3 284.9L249.7 289.1L246.1 286.5L242.6 289.1L243.9 284.9L240.4 282.4L244.8 282.4ZM244.6 287.1L246.0 291.2L250.4 291.2L246.8 293.8L248.2 298.0L244.6 295.4L241.1 298.0L242.4 293.8L238.9 291.2L243.3 291.2ZM239.4 293.0L240.8 297.2L245.2 297.2L241.6 299.8L243.0 303.9L239.4 301.3L235.9 303.9L237.2 299.8L233.7 297.2L238.1 297.2ZM248.3 293.0L249.7 297.2L254.1 297.2L250.5 299.8L251.9 303.9L248.3 301.3L244.8 303.9L246.1 299.8L242.6 297.2L247.0 297.2ZM275.2 275.5L276.6 279.7L281.0 279.7L277.4 282.3L278.8 286.4L275.2 283.9L271.7 286.4L273.0 282.3L269.5 279.7L273.9 279.7ZM279.6 274.0L281.0 278.2L285.4 278.2L281.8 280.8L283.2 285.0L279.6 282.4L276.1 285.0L277.4 280.8L273.9 278.2L278.3 278.2ZM287.5 276.3L288.9 280.5L293.3 280.5L289.7 283.0L291.1 287.2L287.5 284.6L284.0 287.2L285.3 283.0L281.8 280.5L286.2 280.5ZM291.3 276.5L292.7 280.7L297.1 280.7L293.5 283.3L294.9 287.4L291.3 284.9L287.8 287.4L289.1 283.3L285.6 280.7L290.0 280.7ZM304.4 274.0L305.7 278.2L310.1 278.2L306.6 280.7L307.9 284.9L304.4 282.3L300.8 284.9L302.2 280.7L298.6 278.2L303.0 278.2ZM309.6 276.3L311.0 280.5L315.4 280.5L311.8 283.1L313.2 287.3L309.6 284.7L306.1 287.3L307.4 283.1L303.9 280.5L308.3 280.5ZM316.7 275.7L318.1 279.8L322.5 279.8L318.9 282.4L320.3 286.6L316.7 284.0L313.1 286.6L314.5 282.4L310.9 279.8L315.3 279.8ZM326.1 275.6L327.4 279.8L331.8 279.8L328.3 282.4L329.6 286.6L326.1 284.0L322.5 286.6L323.9 282.4L320.3 279.8L324.7 279.8ZM351.5 275.1L352.9 279.3L357.3 279.3L353.7 281.9L355.1 286.0L351.5 283.5L348.0 286.0L349.3 281.9L345.8 279.3L350.1 279.3ZM267.1 281.6L268.5 285.8L272.9 285.8L269.3 288.4L270.7 292.5L267.1 289.9L263.6 292.5L264.9 288.4L261.4 285.8L265.7 285.8ZM270.5 279.0L271.9 283.1L276.3 283.1L272.7 285.7L274.1 289.9L270.5 287.3L267.0 289.9L268.3 285.7L264.8 283.1L269.2 283.1ZM275.6 281.7L276.9 285.9L281.3 285.9L277.8 288.5L279.1 292.6L275.6 290.1L272.0 292.6L273.4 288.5L269.8 285.9L274.2 285.9ZM282.8 279.1L284.1 283.3L288.5 283.3L285.0 285.9L286.3 290.0L282.8 287.5L279.2 290.0L280.6 285.9L277.0 283.3L281.4 283.3ZM288.3 281.6L289.6 285.7L294.0 285.7L290.5 288.3L291.8 292.5L288.3 289.9L284.7 292.5L286.1 288.3L282.5 285.7L286.9 285.7ZM293.3 280.9L294.6 285.1L299.0 285.1L295.5 287.6L296.8 291.8L293.3 289.2L289.7 291.8L291.1 287.6L287.5 285.1L291.9 285.1ZM299.8 278.6L301.1 282.7L305.5 282.7L302.0 285.3L303.3 289.5L299.8 286.9L296.2 289.5L297.6 285.3L294.0 282.7L298.4 282.7ZM305.5 278.6L306.8 282.7L311.2 282.7L307.7 285.3L309.0 289.5L305.5 286.9L301.9 289.5L303.3 285.3L299.7 282.7L304.1 282.7ZM314.6 281.5L316.0 285.7L320.4 285.7L316.8 288.3L318.2 292.5L314.6 289.9L311.0 292.5L312.4 288.3L308.9 285.7L313.2 285.7ZM319.1 279.1L320.5 283.3L324.9 283.3L321.3 285.9L322.7 290.0L319.1 287.5L315.6 290.0L316.9 285.9L313.4 283.3L317.8 283.3ZM347.6 278.9L349.0 283.1L353.4 283.1L349.8 285.7L351.2 289.9L347.6 287.3L344.1 289.9L345.4 285.7L341.9 283.1L346.3 283.1ZM257.9 286.1L259.3 290.3L263.7 290.3L260.1 292.9L261.5 297.0L257.9 294.4L254.4 297.0L255.7 292.9L252.2 290.3L256.6 290.3ZM261.8 283.5L263.2 287.7L267.6 287.7L264.0 290.3L265.4 294.5L261.8 291.9L258.3 294.5L259.6 290.3L256.1 287.7L260.5 287.7ZM269.4 286.1L270.7 290.3L275.1 290.3L271.6 292.9L272.9 297.0L269.4 294.5L265.8 297.0L267.2 292.9L263.6 290.3L268.0 290.3ZM272.7 285.6L274.1 289.8L278.5 289.8L274.9 292.4L276.3 296.6L272.7 294.0L269.2 296.6L270.5 292.4L267.0 289.8L271.4 289.8ZM278.7 286.9L280.1 291.1L284.5 291.1L280.9 293.6L282.3 297.8L278.7 295.2L275.2 297.8L276.5 293.6L273.0 291.1L277.4 291.1ZM286.0 283.5L287.4 287.7L291.8 287.7L288.2 290.3L289.6 294.5L286.0 291.9L282.5 294.5L283.8 290.3L280.3 287.7L284.7 287.7ZM292.4 285.7L293.7 289.9L298.1 289.9L294.6 292.5L295.9 296.6L292.4 294.1L288.8 296.6L290.2 292.5L286.6 289.9L291.0 289.9ZM299.1 284.1L300.4 288.3L304.8 288.3L301.3 290.9L302.6 295.1L299.1 292.5L295.5 295.1L296.9 290.9L293.3 288.3L297.7 288.3ZM302.5 286.0L303.9 290.1L308.3 290.1L304.7 292.7L306.1 296.9L302.5 294.3L298.9 296.9L300.3 292.7L296.8 290.1L301.1 290.1ZM308.4 283.4L309.8 287.6L314.1 287.6L310.6 290.2L312.0 294.3L308.4 291.8L304.8 294.3L306.2 290.2L302.6 287.6L307.0 287.6ZM316.1 285.7L317.5 289.9L321.9 289.9L318.3 292.5L319.7 296.7L316.1 294.1L312.6 296.7L313.9 292.5L310.4 289.9L314.8 289.9ZM345.3 283.4L346.7 287.6L351.1 287.6L347.5 290.2L348.9 294.3L345.3 291.7L341.7 294.3L343.1 290.2L339.5 287.6L343.9 287.6ZM352.3 284.3L353.7 288.5L358.1 288.5L354.5 291.0L355.9 295.2L352.3 292.6L348.7 295.2L350.1 291.0L346.5 288.5L350.9 288.5ZM356.1 287.1L357.5 291.3L361.8 291.3L358.3 293.9L359.6 298.1L356.1 295.5L352.5 298.1L353.9 293.9L350.3 291.3L354.7 291.3ZM258.8 289.7L260.2 293.8L264.6 293.8L261.0 296.4L262.4 300.6L258.8 298.0L255.2 300.6L256.6 296.4L253.0 293.8L257.4 293.8ZM263.7 289.7L265.1 293.9L269.5 293.9L265.9 296.5L267.3 300.7L263.7 298.1L260.2 300.7L261.5 296.5L258.0 293.9L262.4 293.9ZM269.6 288.7L270.9 292.9L275.3 292.9L271.8 295.5L273.1 299.7L269.6 297.1L266.0 299.7L267.4 295.5L263.8 292.9L268.2 292.9ZM282.5 291.7L283.9 295.9L288.3 295.9L284.7 298.5L286.1 302.6L282.5 300.1L279.0 302.6L280.3 298.5L276.8 295.9L281.2 295.9ZM289.1 289.0L290.5 293.2L294.9 293.2L291.3 295.8L292.7 300.0L289.1 297.4L285.6 300.0L286.9 295.8L283.4 293.2L287.7 293.2ZM295.1 290.1L296.4 294.2L300.8 294.2L297.3 296.8L298.6 301.0L295.1 298.4L291.5 301.0L292.9 296.8L289.3 294.2L293.7 294.2ZM300.4 291.0L301.7 295.2L306.1 295.2L302.6 297.8L303.9 301.9L300.4 299.4L296.8 301.9L298.2 297.8L294.6 295.2L299.0 295.2ZM306.8 288.9L308.2 293.1L312.5 293.1L309.0 295.7L310.3 299.9L306.8 297.3L303.2 299.9L304.6 295.7L301.0 293.1L305.4 293.1ZM310.7 291.3L312.1 295.5L316.5 295.5L312.9 298.1L314.3 302.2L310.7 299.7L307.2 302.2L308.5 298.1L305.0 295.5L309.4 295.5ZM348.6 290.4L350.0 294.6L354.4 294.6L350.8 297.2L352.2 301.3L348.6 298.8L345.1 301.3L346.4 297.2L342.9 294.6L347.3 294.6ZM352.3 291.6L353.7 295.8L358.1 295.8L354.5 298.4L355.9 302.6L352.3 300.0L348.8 302.6L350.1 298.4L346.6 295.8L351.0 295.8ZM358.3 288.7L359.6 292.9L364.0 292.9L360.5 295.5L361.8 299.7L358.3 297.1L354.7 299.7L356.1 295.5L352.5 292.9L356.9 292.9ZM365.6 288.3L366.9 292.5L371.3 292.5L367.8 295.1L369.1 299.3L365.6 296.7L362.0 299.3L363.4 295.1L359.8 292.5L364.2 292.5ZM369.8 291.9L371.1 296.1L375.5 296.1L372.0 298.7L373.3 302.9L369.8 300.3L366.2 302.9L367.6 298.7L364.0 296.1L368.4 296.1ZM261.0 294.3L262.3 298.5L266.7 298.5L263.2 301.1L264.5 305.2L261.0 302.7L257.4 305.2L258.8 301.1L255.2 298.5L259.6 298.5ZM286.1 295.6L287.5 299.8L291.8 299.8L288.3 302.4L289.7 306.6L286.1 304.0L282.5 306.6L283.9 302.4L280.3 299.8L284.7 299.8ZM292.1 294.8L293.5 299.0L297.8 299.0L294.3 301.6L295.6 305.7L292.1 303.2L288.5 305.7L289.9 301.6L286.3 299.0L290.7 299.0ZM298.3 295.4L299.7 299.5L304.1 299.5L300.5 302.1L301.9 306.3L298.3 303.7L294.8 306.3L296.1 302.1L292.6 299.5L297.0 299.5ZM302.4 295.8L303.8 300.0L308.2 300.0L304.6 302.6L306.0 306.8L302.4 304.2L298.9 306.8L300.2 302.6L296.7 300.0L301.1 300.0ZM308.4 296.9L309.7 301.0L314.1 301.0L310.6 303.6L311.9 307.8L308.4 305.2L304.8 307.8L306.2 303.6L302.6 301.0L307.0 301.0ZM314.7 296.1L316.1 300.2L320.5 300.2L316.9 302.8L318.3 307.0L314.7 304.4L311.2 307.0L312.5 302.8L309.0 300.2L313.4 300.2ZM322.9 296.4L324.2 300.6L328.6 300.6L325.1 303.2L326.4 307.4L322.9 304.8L319.3 307.4L320.7 303.2L317.1 300.6L321.5 300.6ZM327.2 296.8L328.6 301.0L333.0 301.0L329.4 303.6L330.8 307.8L327.2 305.2L323.7 307.8L325.0 303.6L321.5 301.0L325.9 301.0ZM345.2 297.3L346.5 301.5L350.9 301.5L347.4 304.1L348.7 308.3L345.2 305.7L341.6 308.3L343.0 304.1L339.4 301.5L343.8 301.5ZM351.1 295.8L352.5 300.0L356.9 300.0L353.3 302.5L354.7 306.7L351.1 304.1L347.6 306.7L348.9 302.5L345.4 300.0L349.8 300.0ZM369.9 294.6L371.3 298.8L375.7 298.8L372.1 301.4L373.5 305.6L369.9 303.0L366.3 305.6L367.7 301.4L364.1 298.8L368.5 298.8ZM260.7 301.6L262.1 305.8L266.5 305.8L262.9 308.4L264.3 312.6L260.7 310.0L257.2 312.6L258.6 308.4L255.0 305.8L259.4 305.8ZM283.4 299.8L284.7 304.0L289.1 304.0L285.6 306.5L286.9 310.7L283.4 308.1L279.8 310.7L281.2 306.5L277.6 304.0L282.0 304.0ZM288.8 302.4L290.1 306.6L294.5 306.6L291.0 309.2L292.3 313.4L288.8 310.8L285.2 313.4L286.6 309.2L283.0 306.6L287.4 306.6ZM293.7 300.3L295.1 304.5L299.5 304.5L295.9 307.1L297.3 311.3L293.7 308.7L290.2 311.3L291.5 307.1L288.0 304.5L292.3 304.5ZM308.0 299.4L309.4 303.5L313.8 303.5L310.2 306.1L311.6 310.3L308.0 307.7L304.4 310.3L305.8 306.1L302.2 303.5L306.6 303.5ZM312.9 300.0L314.3 304.2L318.7 304.2L315.1 306.7L316.5 310.9L312.9 308.3L309.4 310.9L310.7 306.7L307.2 304.2L311.6 304.2ZM319.2 299.6L320.5 303.8L324.9 303.8L321.4 306.4L322.7 310.6L319.2 308.0L315.6 310.6L317.0 306.4L313.4 303.8L317.8 303.8ZM323.9 301.3L325.3 305.5L329.7 305.5L326.1 308.1L327.5 312.3L323.9 309.7L320.4 312.3L321.7 308.1L318.2 305.5L322.6 305.5ZM329.3 301.3L330.6 305.4L335.0 305.4L331.5 308.0L332.8 312.2L329.3 309.6L325.7 312.2L327.1 308.0L323.5 305.4L327.9 305.4ZM336.9 302.0L338.3 306.1L342.7 306.1L339.1 308.7L340.5 312.9L336.9 310.3L333.4 312.9L334.7 308.7L331.2 306.1L335.6 306.1ZM355.6 302.3L357.0 306.5L361.4 306.5L357.8 309.1L359.2 313.2L355.6 310.7L352.1 313.2L353.4 309.1L349.9 306.5L354.3 306.5ZM358.5 300.1L359.9 304.3L364.2 304.3L360.7 306.9L362.1 311.1L358.5 308.5L354.9 311.1L356.3 306.9L352.7 304.3L357.1 304.3ZM366.0 302.3L367.3 306.4L371.7 306.4L368.2 309.0L369.5 313.2L366.0 310.6L362.4 313.2L363.8 309.0L360.2 306.4L364.6 306.4ZM369.8 299.2L371.2 303.4L375.6 303.4L372.0 306.0L373.4 310.1L369.8 307.6L366.3 310.1L367.6 306.0L364.1 303.4L368.5 303.4ZM252.6 307.6L254.0 311.8L258.4 311.8L254.8 314.4L256.2 318.5L252.6 316.0L249.0 318.5L250.4 314.4L246.8 311.8L251.2 311.8ZM262.7 304.8L264.1 309.0L268.5 309.0L264.9 311.6L266.3 315.8L262.7 313.2L259.2 315.8L260.5 311.6L257.0 309.0L261.4 309.0ZM266.5 303.8L267.8 308.0L272.2 308.0L268.7 310.5L270.0 314.7L266.5 312.1L262.9 314.7L264.3 310.5L260.7 308.0L265.1 308.0ZM286.6 303.7L288.0 307.8L292.4 307.8L288.8 310.4L290.2 314.6L286.6 312.0L283.1 314.6L284.4 310.4L280.9 307.8L285.3 307.8ZM292.2 305.5L293.5 309.7L297.9 309.7L294.4 312.3L295.7 316.5L292.2 313.9L288.6 316.5L290.0 312.3L286.4 309.7L290.8 309.7ZM309.0 306.3L310.4 310.5L314.8 310.5L311.2 313.1L312.6 317.2L309.0 314.6L305.4 317.2L306.8 313.1L303.2 310.5L307.6 310.5ZM315.9 306.2L317.3 310.4L321.6 310.4L318.1 313.0L319.5 317.2L315.9 314.6L312.3 317.2L313.7 313.0L310.1 310.4L314.5 310.4ZM319.6 305.7L320.9 309.9L325.3 309.9L321.8 312.5L323.1 316.7L319.6 314.1L316.0 316.7L317.4 312.5L313.8 309.9L318.2 309.9ZM328.9 305.9L330.3 310.1L334.7 310.1L331.1 312.6L332.5 316.8L328.9 314.2L325.4 316.8L326.7 312.6L323.2 310.1L327.6 310.1ZM332.6 303.8L333.9 308.0L338.3 308.0L334.7 310.6L336.1 314.8L332.6 312.2L329.0 314.8L330.4 310.6L326.8 308.0L331.2 308.0ZM338.0 305.0L339.4 309.2L343.8 309.2L340.2 311.7L341.6 315.9L338.0 313.3L334.5 315.9L335.8 311.7L332.3 309.2L336.7 309.2ZM355.4 303.9L356.7 308.1L361.1 308.1L357.6 310.7L358.9 314.9L355.4 312.3L351.8 314.9L353.2 310.7L349.6 308.1L354.0 308.1ZM363.6 304.3L365.0 308.5L369.4 308.5L365.8 311.1L367.2 315.3L363.6 312.7L360.1 315.3L361.4 311.1L357.9 308.5L362.3 308.5ZM368.3 307.6L369.7 311.7L374.0 311.7L370.5 314.3L371.9 318.5L368.3 315.9L364.7 318.5L366.1 314.3L362.5 311.7L366.9 311.7ZM373.4 304.8L374.8 309.0L379.2 309.0L375.6 311.6L377.0 315.8L373.4 313.2L369.9 315.8L371.2 311.6L367.7 309.0L372.0 309.0ZM253.3 309.7L254.7 313.9L259.1 313.9L255.5 316.5L256.9 320.7L253.3 318.1L249.8 320.7L251.1 316.5L247.6 313.9L252.0 313.9ZM264.8 311.8L266.2 316.0L270.6 316.0L267.0 318.6L268.4 322.8L264.8 320.2L261.3 322.8L262.6 318.6L259.1 316.0L263.5 316.0ZM269.5 308.8L270.9 313.0L275.3 313.0L271.7 315.6L273.1 319.8L269.5 317.2L266.0 319.8L267.4 315.6L263.8 313.0L268.2 313.0ZM284.6 310.6L286.0 314.8L290.4 314.8L286.8 317.3L288.2 321.5L284.6 318.9L281.1 321.5L282.4 317.3L278.9 314.8L283.3 314.8ZM288.9 311.9L290.3 316.0L294.7 316.0L291.1 318.6L292.5 322.8L288.9 320.2L285.4 322.8L286.7 318.6L283.2 316.0L287.6 316.0ZM332.1 309.3L333.4 313.4L337.8 313.4L334.3 316.0L335.6 320.2L332.1 317.6L328.5 320.2L329.9 316.0L326.3 313.4L330.7 313.4ZM341.1 309.0L342.5 313.2L346.9 313.2L343.3 315.8L344.7 319.9L341.1 317.4L337.6 319.9L338.9 315.8L335.4 313.2L339.8 313.2ZM355.2 312.7L356.5 316.9L360.9 316.9L357.4 319.4L358.7 323.6L355.2 321.0L351.6 323.6L353.0 319.4L349.4 316.9L353.8 316.9ZM360.5 309.0L361.9 313.2L366.3 313.2L362.7 315.8L364.1 319.9L360.5 317.4L357.0 319.9L358.3 315.8L354.8 313.2L359.2 313.2ZM367.2 312.7L368.6 316.9L372.9 316.9L369.4 319.4L370.8 323.6L367.2 321.0L363.6 323.6L365.0 319.4L361.4 316.9L365.8 316.9ZM371.7 310.5L373.0 314.7L377.4 314.7L373.8 317.3L375.2 321.5L371.7 318.9L368.1 321.5L369.5 317.3L365.9 314.7L370.3 314.7ZM375.8 311.7L377.2 315.9L381.6 315.9L378.0 318.4L379.4 322.6L375.8 320.0L372.3 322.6L373.6 318.4L370.1 315.9L374.5 315.9ZM385.3 311.7L386.7 315.9L391.1 315.9L387.5 318.5L388.9 322.7L385.3 320.1L381.8 322.7L383.1 318.5L379.6 315.9L384.0 315.9ZM287.4 317.3L288.8 321.5L293.1 321.5L289.6 324.0L290.9 328.2L287.4 325.6L283.8 328.2L285.2 324.0L281.6 321.5L286.0 321.5ZM292.1 315.1L293.4 319.3L297.8 319.3L294.3 321.9L295.6 326.1L292.1 323.5L288.5 326.1L289.9 321.9L286.3 319.3L290.7 319.3ZM299.3 316.8L300.7 320.9L305.1 320.9L301.5 323.5L302.9 327.7L299.3 325.1L295.7 327.7L297.1 323.5L293.6 320.9L297.9 320.9ZM302.0 315.6L303.3 319.8L307.7 319.8L304.2 322.4L305.5 326.6L302.0 324.0L298.4 326.6L299.8 322.4L296.2 319.8L300.6 319.8ZM328.4 315.9L329.8 320.1L334.2 320.1L330.6 322.7L332.0 326.9L328.4 324.3L324.9 326.9L326.2 322.7L322.7 320.1L327.1 320.1ZM332.1 313.9L333.5 318.0L337.9 318.0L334.3 320.6L335.7 324.8L332.1 322.2L328.6 324.8L329.9 320.6L326.4 318.0L330.8 318.0ZM355.1 316.1L356.5 320.3L360.9 320.3L357.3 322.9L358.7 327.1L355.1 324.5L351.5 327.1L352.9 322.9L349.3 320.3L353.7 320.3ZM362.7 314.9L364.1 319.0L368.5 319.0L364.9 321.6L366.3 325.8L362.7 323.2L359.2 325.8L360.5 321.6L357.0 319.0L361.4 319.0ZM367.2 316.1L368.6 320.3L373.0 320.3L369.4 322.9L370.8 327.1L367.2 324.5L363.7 327.1L365.0 322.9L361.5 320.3L365.9 320.3ZM374.8 314.9L376.2 319.1L380.6 319.1L377.0 321.7L378.4 325.9L374.8 323.3L371.2 325.9L372.6 321.7L369.0 319.1L373.4 319.1ZM381.5 314.0L382.9 318.2L387.3 318.2L383.7 320.8L385.1 324.9L381.5 322.4L378.0 324.9L379.3 320.8L375.8 318.2L380.2 318.2ZM386.1 316.8L387.5 320.9L391.9 320.9L388.3 323.5L389.7 327.7L386.1 325.1L382.6 327.7L383.9 323.5L380.4 320.9L384.8 320.9ZM287.3 320.9L288.7 325.1L293.1 325.1L289.5 327.7L290.9 331.8L287.3 329.3L283.8 331.8L285.1 327.7L281.6 325.1L286.0 325.1ZM296.9 321.7L298.2 325.8L302.6 325.8L299.1 328.4L300.4 332.6L296.9 330.0L293.3 332.6L294.7 328.4L291.1 325.8L295.5 325.8ZM301.8 320.2L303.1 324.4L307.5 324.4L304.0 327.0L305.3 331.2L301.8 328.6L298.2 331.2L299.6 327.0L296.0 324.4L300.4 324.4ZM306.8 320.4L308.2 324.6L312.6 324.6L309.0 327.1L310.4 331.3L306.8 328.7L303.3 331.3L304.6 327.1L301.1 324.6L305.5 324.6ZM359.9 319.1L361.3 323.3L365.6 323.3L362.1 325.9L363.5 330.1L359.9 327.5L356.3 330.1L357.7 325.9L354.1 323.3L358.5 323.3ZM371.3 321.7L372.7 325.9L377.1 325.9L373.5 328.5L374.9 332.7L371.3 330.1L367.8 332.7L369.1 328.5L365.6 325.9L370.0 325.9ZM376.3 321.8L377.7 326.0L382.1 326.0L378.5 328.5L379.9 332.7L376.3 330.1L372.8 332.7L374.1 328.5L370.6 326.0L375.0 326.0ZM383.0 321.1L384.4 325.3L388.8 325.3L385.2 327.9L386.6 332.1L383.0 329.5L379.5 332.1L380.8 327.9L377.3 325.3L381.7 325.3ZM401.8 321.1L403.1 325.3L407.5 325.3L404.0 327.8L405.3 332.0L401.8 329.4L398.2 332.0L399.6 327.8L396.0 325.3L400.4 325.3ZM408.5 322.4L409.8 326.5L414.2 326.5L410.7 329.1L412.0 333.3L408.5 330.7L404.9 333.3L406.3 329.1L402.7 326.5L407.1 326.5ZM413.8 321.4L415.1 325.5L419.5 325.5L416.0 328.1L417.3 332.3L413.8 329.7L410.2 332.3L411.6 328.1L408.0 325.5L412.4 325.5ZM425.4 319.7L426.7 323.9L431.1 323.9L427.6 326.4L428.9 330.6L425.4 328.0L421.8 330.6L423.2 326.4L419.6 323.9L424.0 323.9ZM478.6 320.1L480.0 324.3L484.4 324.3L480.8 326.9L482.2 331.1L478.6 328.5L475.1 331.1L476.4 326.9L472.9 324.3L477.3 324.3ZM488.3 320.6L489.7 324.8L494.1 324.8L490.5 327.4L491.9 331.6L488.3 329.0L484.8 331.6L486.1 327.4L482.6 324.8L487.0 324.8ZM373.1 326.7L374.5 330.9L378.9 330.9L375.3 333.5L376.7 337.7L373.1 335.1L369.6 337.7L370.9 333.5L367.4 330.9L371.8 330.9ZM381.6 324.9L383.0 329.1L387.4 329.1L383.8 331.6L385.2 335.8L381.6 333.2L378.1 335.8L379.4 331.6L375.9 329.1L380.3 329.1ZM398.0 325.3L399.4 329.5L403.8 329.5L400.2 332.1L401.6 336.3L398.0 333.7L394.5 336.3L395.8 332.1L392.3 329.5L396.7 329.5ZM409.0 324.9L410.4 329.1L414.8 329.1L411.2 331.7L412.6 335.9L409.0 333.3L405.5 335.9L406.8 331.7L403.3 329.1L407.7 329.1ZM423.1 326.4L424.5 330.6L428.9 330.6L425.3 333.2L426.7 337.3L423.1 334.8L419.6 337.3L421.0 333.2L417.4 330.6L421.8 330.6ZM425.9 326.4L427.3 330.6L431.7 330.6L428.1 333.2L429.5 337.4L425.9 334.8L422.4 337.4L423.7 333.2L420.2 330.6L424.6 330.6ZM443.9 327.8L445.2 332.0L449.6 332.0L446.1 334.6L447.4 338.8L443.9 336.2L440.3 338.8L441.7 334.6L438.1 332.0L442.5 332.0ZM473.2 327.0L474.6 331.2L479.0 331.2L475.4 333.8L476.8 337.9L473.2 335.3L469.7 337.9L471.0 333.8L467.5 331.2L471.9 331.2ZM371.7 330.4L373.1 334.6L377.5 334.6L373.9 337.2L375.3 341.4L371.7 338.8L368.2 341.4L369.5 337.2L366.0 334.6L370.4 334.6ZM375.9 332.5L377.3 336.6L381.7 336.6L378.1 339.2L379.5 343.4L375.9 340.8L372.4 343.4L373.7 339.2L370.2 336.6L374.6 336.6ZM385.4 331.3L386.8 335.5L391.2 335.5L387.6 338.0L389.0 342.2L385.4 339.6L381.9 342.2L383.3 338.0L379.7 335.5L384.1 335.5ZM413.4 332.4L414.7 336.6L419.1 336.6L415.6 339.2L416.9 343.4L413.4 340.8L409.8 343.4L411.2 339.2L407.6 336.6L412.0 336.6ZM418.2 331.2L419.6 335.4L424.0 335.4L420.4 338.0L421.8 342.2L418.2 339.6L414.7 342.2L416.0 338.0L412.5 335.4L416.9 335.4ZM424.7 331.3L426.1 335.5L430.4 335.5L426.9 338.1L428.2 342.2L424.7 339.7L421.1 342.2L422.5 338.1L418.9 335.5L423.3 335.5ZM441.9 331.3L443.3 335.5L447.7 335.5L444.1 338.1L445.5 342.3L441.9 339.7L438.4 342.3L439.7 338.1L436.2 335.5L440.6 335.5ZM449.5 332.1L450.9 336.3L455.3 336.3L451.7 338.8L453.1 343.0L449.5 340.4L446.0 343.0L447.3 338.8L443.8 336.3L448.2 336.3ZM453.6 331.7L455.0 335.9L459.4 335.9L455.8 338.4L457.2 342.6L453.6 340.0L450.1 342.6L451.4 338.4L447.9 335.9L452.3 335.9ZM461.7 332.4L463.0 336.6L467.4 336.6L463.9 339.2L465.2 343.4L461.7 340.8L458.1 343.4L459.5 339.2L455.9 336.6L460.3 336.6ZM484.7 331.3L486.0 335.5L490.4 335.5L486.9 338.1L488.2 342.2L484.7 339.7L481.1 342.2L482.5 338.1L478.9 335.5L483.3 335.5ZM373.0 334.3L374.4 338.5L378.8 338.5L375.2 341.1L376.6 345.2L373.0 342.7L369.4 345.2L370.8 341.1L367.2 338.5L371.6 338.5ZM391.5 335.6L392.9 339.8L397.3 339.8L393.7 342.4L395.1 346.6L391.5 344.0L388.0 346.6L389.3 342.4L385.8 339.8L390.2 339.8ZM399.0 335.5L400.3 339.6L404.7 339.6L401.2 342.2L402.5 346.4L399.0 343.8L395.4 346.4L396.8 342.2L393.2 339.6L397.6 339.6ZM404.0 334.5L405.4 338.7L409.7 338.7L406.2 341.3L407.5 345.5L404.0 342.9L400.4 345.5L401.8 341.3L398.2 338.7L402.6 338.7ZM420.0 335.5L421.3 339.7L425.7 339.7L422.2 342.3L423.5 346.5L420.0 343.9L416.4 346.5L417.8 342.3L414.2 339.7L418.6 339.7ZM428.5 336.5L429.9 340.7L434.3 340.7L430.7 343.3L432.1 347.4L428.5 344.9L425.0 347.4L426.3 343.3L422.8 340.7L427.2 340.7ZM445.2 336.7L446.6 340.9L451.0 340.9L447.4 343.5L448.8 347.6L445.2 345.1L441.7 347.6L443.0 343.5L439.5 340.9L443.9 340.9ZM476.7 337.1L478.1 341.3L482.5 341.3L478.9 343.9L480.3 348.1L476.7 345.5L473.2 348.1L474.6 343.9L471.0 341.3L475.4 341.3ZM482.7 337.6L484.1 341.7L488.5 341.7L484.9 344.3L486.3 348.5L482.7 345.9L479.2 348.5L480.5 344.3L477.0 341.7L481.4 341.7ZM373.6 341.1L374.9 345.3L379.3 345.3L375.8 347.9L377.1 352.1L373.6 349.5L370.0 352.1L371.4 347.9L367.8 345.3L372.2 345.3ZM391.4 341.3L392.7 345.5L397.1 345.5L393.6 348.1L394.9 352.3L391.4 349.7L387.8 352.3L389.2 348.1L385.6 345.5L390.0 345.5ZM394.4 340.5L395.7 344.7L400.1 344.7L396.6 347.3L397.9 351.5L394.4 348.9L390.8 351.5L392.2 347.3L388.6 344.7L393.0 344.7ZM406.5 341.9L407.8 346.1L412.2 346.1L408.7 348.7L410.0 352.8L406.5 350.3L402.9 352.8L404.3 348.7L400.7 346.1L405.1 346.1ZM419.2 342.8L420.5 346.9L424.9 346.9L421.4 349.5L422.7 353.7L419.2 351.1L415.6 353.7L417.0 349.5L413.4 346.9L417.8 346.9ZM422.9 340.5L424.3 344.7L428.7 344.7L425.1 347.3L426.5 351.5L422.9 348.9L419.4 351.5L420.7 347.3L417.2 344.7L421.6 344.7ZM429.3 342.1L430.7 346.3L435.1 346.3L431.5 348.9L432.9 353.0L429.3 350.4L425.8 353.0L427.1 348.9L423.6 346.3L427.9 346.3ZM449.7 341.0L451.0 345.2L455.4 345.2L451.9 347.8L453.2 352.0L449.7 349.4L446.1 352.0L447.5 347.8L443.9 345.2L448.3 345.2ZM464.3 340.7L465.7 344.9L470.0 344.9L466.5 347.5L467.9 351.7L464.3 349.1L460.7 351.7L462.1 347.5L458.5 344.9L462.9 344.9ZM472.2 341.1L473.6 345.3L478.0 345.3L474.4 347.8L475.8 352.0L472.2 349.4L468.7 352.0L470.0 347.8L466.5 345.3L470.9 345.3ZM478.2 342.6L479.6 346.8L484.0 346.8L480.4 349.4L481.8 353.6L478.2 351.0L474.7 353.6L476.0 349.4L472.5 346.8L476.9 346.8ZM482.2 341.2L483.5 345.4L487.9 345.4L484.4 348.0L485.7 352.1L482.2 349.6L478.6 352.1L480.0 348.0L476.4 345.4L480.8 345.4ZM404.5 344.8L405.9 349.0L410.2 349.0L406.7 351.6L408.1 355.8L404.5 353.2L400.9 355.8L402.3 351.6L398.7 349.0L403.1 349.0ZM416.5 345.2L417.9 349.4L422.3 349.4L418.7 352.0L420.1 356.2L416.5 353.6L413.0 356.2L414.3 352.0L410.8 349.4L415.2 349.4ZM423.2 347.8L424.5 352.0L428.9 352.0L425.4 354.6L426.7 358.8L423.2 356.2L419.6 358.8L421.0 354.6L417.4 352.0L421.8 352.0ZM429.5 345.7L430.9 349.9L435.3 349.9L431.7 352.5L433.1 356.6L429.5 354.1L425.9 356.6L427.3 352.5L423.7 349.9L428.1 349.9ZM444.5 347.8L445.9 351.9L450.3 351.9L446.7 354.5L448.1 358.7L444.5 356.1L441.0 358.7L442.3 354.5L438.8 351.9L443.2 351.9ZM463.8 346.8L465.2 350.9L469.6 350.9L466.0 353.5L467.4 357.7L463.8 355.1L460.3 357.7L461.6 353.5L458.1 350.9L462.5 350.9ZM469.5 344.7L470.8 348.9L475.2 348.9L471.7 351.5L473.0 355.7L469.5 353.1L465.9 355.7L467.3 351.5L463.7 348.9L468.1 348.9ZM474.5 347.2L475.8 351.4L480.2 351.4L476.7 354.0L478.0 358.2L474.5 355.6L470.9 358.2L472.3 354.0L468.7 351.4L473.1 351.4ZM480.5 345.5L481.8 349.6L486.2 349.6L482.7 352.2L484.0 356.4L480.5 353.8L476.9 356.4L478.3 352.2L474.7 349.6L479.1 349.6ZM486.9 345.2L488.3 349.4L492.7 349.4L489.1 351.9L490.5 356.1L486.9 353.5L483.4 356.1L484.7 351.9L481.2 349.4L485.5 349.4ZM491.0 348.2L492.3 352.4L496.7 352.4L493.2 355.0L494.5 359.1L491.0 356.6L487.4 359.1L488.8 355.0L485.2 352.4L489.6 352.4ZM496.7 346.8L498.1 351.0L502.5 351.0L498.9 353.5L500.3 357.7L496.7 355.1L493.2 357.7L494.5 353.5L491.0 351.0L495.4 351.0ZM576.6 347.1L577.9 351.2L582.3 351.2L578.8 353.8L580.1 358.0L576.6 355.4L573.0 358.0L574.4 353.8L570.8 351.2L575.2 351.2ZM432.4 352.6L433.8 356.8L438.2 356.8L434.6 359.4L436.0 363.5L432.4 361.0L428.8 363.5L430.2 359.4L426.6 356.8L431.0 356.8ZM443.4 349.9L444.8 354.1L449.2 354.1L445.6 356.7L447.0 360.9L443.4 358.3L439.9 360.9L441.2 356.7L437.7 354.1L442.1 354.1ZM449.1 353.4L450.4 357.5L454.8 357.5L451.3 360.1L452.6 364.3L449.1 361.7L445.5 364.3L446.9 360.1L443.3 357.5L447.7 357.5ZM453.3 352.4L454.6 356.5L459.0 356.5L455.5 359.1L456.8 363.3L453.3 360.7L449.7 363.3L451.1 359.1L447.5 356.5L451.9 356.5ZM485.7 351.4L487.1 355.5L491.5 355.5L487.9 358.1L489.3 362.3L485.7 359.7L482.2 362.3L483.5 358.1L480.0 355.5L484.4 355.5ZM490.4 353.4L491.8 357.6L496.2 357.6L492.6 360.2L494.0 364.3L490.4 361.8L486.9 364.3L488.2 360.2L484.7 357.6L489.1 357.6ZM494.9 351.4L496.2 355.6L500.6 355.6L497.1 358.1L498.4 362.3L494.9 359.7L491.3 362.3L492.7 358.1L489.1 355.6L493.5 355.6ZM501.2 350.1L502.5 354.3L506.9 354.3L503.4 356.9L504.7 361.0L501.2 358.5L497.6 361.0L499.0 356.9L495.4 354.3L499.8 354.3ZM538.3 353.1L539.7 357.2L544.1 357.2L540.5 359.8L541.9 364.0L538.3 361.4L534.7 364.0L536.1 359.8L532.5 357.2L536.9 357.2ZM548.4 350.3L549.7 354.5L554.1 354.5L550.6 357.1L551.9 361.3L548.4 358.7L544.8 361.3L546.2 357.1L542.6 354.5L547.0 354.5ZM555.1 352.9L556.4 357.0L560.8 357.0L557.2 359.6L558.6 363.8L555.1 361.2L551.5 363.8L552.9 359.6L549.3 357.0L553.7 357.0ZM558.8 350.7L560.1 354.9L564.5 354.9L561.0 357.5L562.3 361.7L558.8 359.1L555.2 361.7L556.6 357.5L553.0 354.9L557.4 354.9ZM565.5 351.0L566.9 355.2L571.3 355.2L567.7 357.8L569.1 361.9L565.5 359.4L562.0 361.9L563.3 357.8L559.8 355.2L564.2 355.2ZM572.5 349.8L573.9 354.0L578.2 354.0L574.7 356.5L576.0 360.7L572.5 358.1L568.9 360.7L570.3 356.5L566.7 354.0L571.1 354.0ZM589.0 352.1L590.4 356.2L594.8 356.2L591.2 358.8L592.6 363.0L589.0 360.4L585.5 363.0L586.8 358.8L583.3 356.2L587.7 356.2ZM381.1 358.0L382.4 362.2L386.8 362.2L383.3 364.8L384.6 369.0L381.1 366.4L377.5 369.0L378.9 364.8L375.3 362.2L379.7 362.2ZM398.9 355.3L400.3 359.5L404.7 359.5L401.1 362.1L402.5 366.3L398.9 363.7L395.4 366.3L396.7 362.1L393.2 359.5L397.6 359.5ZM410.7 357.1L412.0 361.2L416.4 361.2L412.9 363.8L414.2 368.0L410.7 365.4L407.1 368.0L408.5 363.8L404.9 361.2L409.3 361.2ZM429.6 354.7L430.9 358.9L435.3 358.9L431.8 361.5L433.1 365.7L429.6 363.1L426.0 365.7L427.4 361.5L423.8 358.9L428.2 358.9ZM432.1 356.7L433.5 360.9L437.9 360.9L434.3 363.5L435.7 367.6L432.1 365.1L428.5 367.6L429.9 363.5L426.4 360.9L430.7 360.9ZM451.9 357.7L453.3 361.9L457.7 361.9L454.1 364.5L455.5 368.7L451.9 366.1L448.3 368.7L449.7 364.5L446.2 361.9L450.5 361.9ZM482.0 355.4L483.4 359.6L487.8 359.6L484.2 362.2L485.6 366.3L482.0 363.7L478.5 366.3L479.8 362.2L476.3 359.6L480.7 359.6ZM487.0 356.4L488.4 360.6L492.8 360.6L489.2 363.2L490.6 367.3L487.0 364.8L483.5 367.3L484.8 363.2L481.3 360.6L485.7 360.6ZM491.5 357.6L492.8 361.8L497.2 361.8L493.7 364.4L495.0 368.5L491.5 366.0L487.9 368.5L489.3 364.4L485.7 361.8L490.1 361.8ZM496.6 357.6L498.0 361.8L502.4 361.8L498.8 364.4L500.2 368.5L496.6 366.0L493.1 368.5L494.4 364.4L490.9 361.8L495.3 361.8ZM532.1 355.6L533.5 359.8L537.9 359.8L534.3 362.4L535.7 366.6L532.1 364.0L528.6 366.6L529.9 362.4L526.4 359.8L530.8 359.8ZM538.5 357.3L539.9 361.5L544.3 361.5L540.7 364.0L542.1 368.2L538.5 365.6L534.9 368.2L536.3 364.0L532.7 361.5L537.1 361.5ZM544.7 357.4L546.1 361.5L550.5 361.5L546.9 364.1L548.3 368.3L544.7 365.7L541.2 368.3L542.5 364.1L539.0 361.5L543.4 361.5ZM559.0 356.7L560.4 360.9L564.7 360.9L561.2 363.5L562.6 367.6L559.0 365.1L555.4 367.6L556.8 363.5L553.2 360.9L557.6 360.9ZM563.6 355.1L565.0 359.3L569.4 359.3L565.8 361.9L567.2 366.1L563.6 363.5L560.1 366.1L561.4 361.9L557.9 359.3L562.2 359.3ZM573.7 356.3L575.0 360.5L579.4 360.5L575.9 363.1L577.2 367.3L573.7 364.7L570.1 367.3L571.5 363.1L567.9 360.5L572.3 360.5ZM589.0 357.8L590.3 361.9L594.7 361.9L591.2 364.5L592.5 368.7L589.0 366.1L585.4 368.7L586.8 364.5L583.2 361.9L587.6 361.9ZM591.4 355.7L592.8 359.9L597.2 359.9L593.6 362.5L595.0 366.7L591.4 364.1L587.9 366.7L589.2 362.5L585.7 359.9L590.1 359.9ZM372.3 360.4L373.7 364.6L378.1 364.6L374.5 367.1L375.9 371.3L372.3 368.7L368.8 371.3L370.1 367.1L366.6 364.6L371.0 364.6ZM381.6 361.7L383.0 365.9L387.3 365.9L383.8 368.5L385.2 372.6L381.6 370.0L378.0 372.6L379.4 368.5L375.8 365.9L380.2 365.9ZM396.1 361.3L397.5 365.4L401.9 365.4L398.3 368.0L399.7 372.2L396.1 369.6L392.6 372.2L393.9 368.0L390.4 365.4L394.7 365.4ZM411.3 362.0L412.7 366.1L417.1 366.1L413.5 368.7L414.9 372.9L411.3 370.3L407.8 372.9L409.1 368.7L405.6 366.1L410.0 366.1ZM420.3 361.5L421.7 365.7L426.1 365.7L422.5 368.2L423.9 372.4L420.3 369.8L416.8 372.4L418.1 368.2L414.6 365.7L419.0 365.7ZM425.0 361.7L426.3 365.9L430.7 365.9L427.2 368.5L428.5 372.7L425.0 370.1L421.4 372.7L422.8 368.5L419.2 365.9L423.6 365.9ZM429.6 363.0L431.0 367.2L435.3 367.2L431.8 369.7L433.1 373.9L429.6 371.3L426.0 373.9L427.4 369.7L423.8 367.2L428.2 367.2ZM455.7 360.8L457.0 365.0L461.4 365.0L457.9 367.6L459.2 371.8L455.7 369.2L452.1 371.8L453.5 367.6L449.9 365.0L454.3 365.0ZM465.3 361.5L466.6 365.7L471.0 365.7L467.5 368.3L468.8 372.5L465.3 369.9L461.7 372.5L463.1 368.3L459.5 365.7L463.9 365.7ZM471.4 361.7L472.7 365.9L477.1 365.9L473.6 368.5L474.9 372.6L471.4 370.1L467.8 372.6L469.2 368.5L465.6 365.9L470.0 365.9ZM477.8 361.3L479.1 365.5L483.5 365.5L480.0 368.0L481.3 372.2L477.8 369.6L474.2 372.2L475.6 368.0L472.0 365.5L476.4 365.5ZM482.6 362.9L483.9 367.1L488.3 367.1L484.8 369.6L486.1 373.8L482.6 371.2L479.0 373.8L480.4 369.6L476.8 367.1L481.2 367.1ZM488.6 361.9L490.0 366.1L494.4 366.1L490.8 368.7L492.2 372.9L488.6 370.3L485.1 372.9L486.4 368.7L482.9 366.1L487.3 366.1ZM497.4 361.4L498.8 365.6L503.2 365.6L499.6 368.2L501.0 372.4L497.4 369.8L493.9 372.4L495.2 368.2L491.7 365.6L496.1 365.6ZM502.1 363.3L503.5 367.5L507.9 367.5L504.3 370.1L505.7 374.2L502.1 371.7L498.5 374.2L499.9 370.1L496.3 367.5L500.7 367.5ZM519.8 361.4L521.1 365.6L525.5 365.6L522.0 368.2L523.3 372.3L519.8 369.8L516.2 372.3L517.6 368.2L514.0 365.6L518.4 365.6ZM525.9 360.4L527.3 364.5L531.7 364.5L528.1 367.1L529.5 371.3L525.9 368.7L522.3 371.3L523.7 367.1L520.1 364.5L524.5 364.5ZM530.0 362.8L531.3 367.0L535.7 367.0L532.2 369.5L533.5 373.7L530.0 371.1L526.4 373.7L527.8 369.5L524.2 367.0L528.6 367.0ZM537.5 361.6L538.8 365.7L543.2 365.7L539.7 368.3L541.0 372.5L537.5 369.9L533.9 372.5L535.3 368.3L531.7 365.7L536.1 365.7ZM543.4 361.6L544.7 365.8L549.1 365.8L545.6 368.4L546.9 372.5L543.4 369.9L539.8 372.5L541.2 368.4L537.6 365.8L542.0 365.8ZM579.9 362.7L581.2 366.9L585.6 366.9L582.1 369.5L583.4 373.7L579.9 371.1L576.3 373.7L577.7 369.5L574.1 366.9L578.5 366.9ZM584.9 360.7L586.2 364.9L590.6 364.9L587.1 367.5L588.4 371.7L584.9 369.1L581.3 371.7L582.7 367.5L579.1 364.9L583.5 364.9ZM591.5 361.7L592.9 365.9L597.3 365.9L593.7 368.5L595.1 372.7L591.5 370.1L588.0 372.7L589.3 368.5L585.8 365.9L590.2 365.9ZM597.9 361.5L599.2 365.7L603.6 365.7L600.1 368.3L601.4 372.5L597.9 369.9L594.3 372.5L595.7 368.3L592.1 365.7L596.5 365.7ZM603.5 363.7L604.8 367.8L609.2 367.8L605.7 370.4L607.0 374.6L603.5 372.0L599.9 374.6L601.3 370.4L597.7 367.8L602.1 367.8ZM370.3 365.0L371.7 369.2L376.1 369.2L372.5 371.8L373.9 376.0L370.3 373.4L366.8 376.0L368.1 371.8L364.6 369.2L369.0 369.2ZM398.6 365.4L399.9 369.6L404.3 369.6L400.8 372.2L402.1 376.3L398.6 373.8L395.0 376.3L396.4 372.2L392.8 369.6L397.2 369.6ZM405.8 367.2L407.1 371.4L411.5 371.4L408.0 374.0L409.3 378.2L405.8 375.6L402.2 378.2L403.6 374.0L400.0 371.4L404.4 371.4ZM409.1 366.4L410.4 370.6L414.8 370.6L411.3 373.2L412.6 377.4L409.1 374.8L405.5 377.4L406.9 373.2L403.3 370.6L407.7 370.6ZM423.3 365.5L424.7 369.7L429.1 369.7L425.5 372.2L426.9 376.4L423.3 373.8L419.8 376.4L421.1 372.2L417.6 369.7L422.0 369.7ZM451.9 366.3L453.3 370.5L457.6 370.5L454.1 373.1L455.4 377.2L451.9 374.7L448.3 377.2L449.7 373.1L446.1 370.5L450.5 370.5ZM467.7 368.2L469.1 372.4L473.5 372.4L469.9 374.9L471.3 379.1L467.7 376.5L464.2 379.1L465.5 374.9L462.0 372.4L466.4 372.4ZM476.6 368.1L477.9 372.3L482.3 372.3L478.8 374.9L480.1 379.0L476.6 376.5L473.0 379.0L474.4 374.9L470.8 372.3L475.2 372.3ZM482.5 367.0L483.8 371.2L488.2 371.2L484.7 373.8L486.0 378.0L482.5 375.4L478.9 378.0L480.3 373.8L476.7 371.2L481.1 371.2ZM486.8 367.7L488.1 371.8L492.5 371.8L488.9 374.4L490.3 378.6L486.8 376.0L483.2 378.6L484.6 374.4L481.0 371.8L485.4 371.8ZM491.5 365.3L492.9 369.5L497.3 369.5L493.7 372.1L495.1 376.3L491.5 373.7L488.0 376.3L489.3 372.1L485.8 369.5L490.2 369.5ZM504.9 365.4L506.3 369.6L510.7 369.6L507.1 372.2L508.5 376.3L504.9 373.8L501.4 376.3L502.7 372.2L499.2 369.6L503.6 369.6ZM511.4 365.5L512.7 369.7L517.1 369.7L513.6 372.3L514.9 376.5L511.4 373.9L507.8 376.5L509.2 372.3L505.6 369.7L510.0 369.7ZM515.1 365.7L516.4 369.9L520.8 369.9L517.3 372.5L518.6 376.6L515.1 374.1L511.5 376.6L512.9 372.5L509.3 369.9L513.7 369.9ZM520.4 366.4L521.7 370.6L526.1 370.6L522.6 373.2L523.9 377.4L520.4 374.8L516.8 377.4L518.2 373.2L514.6 370.6L519.0 370.6ZM529.5 365.6L530.9 369.8L535.3 369.8L531.7 372.4L533.1 376.6L529.5 374.0L526.0 376.6L527.3 372.4L523.8 369.8L528.2 369.8ZM532.3 365.5L533.7 369.7L538.1 369.7L534.5 372.3L535.9 376.5L532.3 373.9L528.7 376.5L530.1 372.3L526.5 369.7L530.9 369.7ZM558.8 366.9L560.2 371.1L564.6 371.1L561.0 373.7L562.4 377.9L558.8 375.3L555.3 377.9L556.6 373.7L553.1 371.1L557.5 371.1ZM576.3 365.2L577.6 369.4L582.0 369.4L578.5 372.0L579.8 376.2L576.3 373.6L572.7 376.2L574.1 372.0L570.5 369.4L574.9 369.4ZM582.3 365.8L583.7 369.9L588.1 369.9L584.5 372.5L585.9 376.7L582.3 374.1L578.7 376.7L580.1 372.5L576.5 369.9L580.9 369.9ZM385.0 373.4L386.4 377.5L390.8 377.5L387.2 380.1L388.6 384.3L385.0 381.7L381.5 384.3L382.8 380.1L379.3 377.5L383.7 377.5ZM479.8 370.2L481.2 374.3L485.5 374.3L482.0 376.9L483.3 381.1L479.8 378.5L476.2 381.1L477.6 376.9L474.0 374.3L478.4 374.3ZM484.1 370.9L485.4 375.1L489.8 375.1L486.3 377.7L487.6 381.8L484.1 379.3L480.5 381.8L481.9 377.7L478.3 375.1L482.7 375.1ZM490.8 372.2L492.1 376.4L496.5 376.4L493.0 378.9L494.3 383.1L490.8 380.5L487.2 383.1L488.6 378.9L485.0 376.4L489.4 376.4ZM494.1 374.0L495.5 378.2L499.9 378.2L496.3 380.8L497.7 385.0L494.1 382.4L490.6 385.0L491.9 380.8L488.4 378.2L492.8 378.2ZM509.4 372.1L510.7 376.3L515.1 376.3L511.6 378.9L512.9 383.1L509.4 380.5L505.8 383.1L507.2 378.9L503.6 376.3L508.0 376.3ZM513.0 372.8L514.3 376.9L518.7 376.9L515.2 379.5L516.5 383.7L513.0 381.1L509.4 383.7L510.8 379.5L507.2 376.9L511.6 376.9ZM547.3 370.9L548.7 375.1L553.1 375.1L549.5 377.6L550.9 381.8L547.3 379.2L543.8 381.8L545.1 377.6L541.6 375.1L546.0 375.1ZM554.2 371.2L555.6 375.4L560.0 375.4L556.4 377.9L557.8 382.1L554.2 379.5L550.7 382.1L552.0 377.9L548.5 375.4L552.8 375.4ZM571.5 370.5L572.8 374.7L577.2 374.7L573.7 377.3L575.0 381.5L571.5 378.9L567.9 381.5L569.3 377.3L565.7 374.7L570.1 374.7ZM583.4 371.0L584.8 375.2L589.2 375.2L585.6 377.8L587.0 382.0L583.4 379.4L579.9 382.0L581.2 377.8L577.7 375.2L582.1 375.2ZM492.0 377.9L493.4 382.1L497.8 382.1L494.2 384.6L495.6 388.8L492.0 386.2L488.5 388.8L489.8 384.6L486.3 382.1L490.7 382.1ZM498.5 378.8L499.8 383.0L504.2 383.0L500.7 385.6L502.0 389.7L498.5 387.2L494.9 389.7L496.3 385.6L492.7 383.0L497.1 383.0ZM505.2 377.9L506.6 382.1L511.0 382.1L507.4 384.7L508.8 388.9L505.2 386.3L501.7 388.9L503.0 384.7L499.5 382.1L503.9 382.1ZM508.6 375.9L510.0 380.1L514.4 380.1L510.8 382.7L512.2 386.9L508.6 384.3L505.1 386.9L506.4 382.7L502.9 380.1L507.3 380.1ZM514.7 377.2L516.1 381.4L520.5 381.4L516.9 383.9L518.3 388.1L514.7 385.5L511.2 388.1L512.5 383.9L509.0 381.4L513.4 381.4ZM534.7 377.6L536.1 381.8L540.4 381.8L536.9 384.4L538.3 388.6L534.7 386.0L531.1 388.6L532.5 384.4L528.9 381.8L533.3 381.8ZM545.0 376.1L546.4 380.3L550.8 380.3L547.2 382.9L548.6 387.0L545.0 384.5L541.5 387.0L542.8 382.9L539.3 380.3L543.7 380.3ZM550.8 378.9L552.2 383.1L556.6 383.1L553.0 385.6L554.4 389.8L550.8 387.2L547.3 389.8L548.6 385.6L545.1 383.1L549.5 383.1ZM557.0 375.2L558.3 379.4L562.7 379.4L559.2 381.9L560.5 386.1L557.0 383.5L553.4 386.1L554.8 381.9L551.2 379.4L555.6 379.4ZM565.0 378.3L566.4 382.5L570.8 382.5L567.2 385.1L568.6 389.3L565.0 386.7L561.5 389.3L562.9 385.1L559.3 382.5L563.7 382.5ZM570.7 377.0L572.0 381.2L576.4 381.2L572.9 383.7L574.2 387.9L570.7 385.3L567.1 387.9L568.5 383.7L564.9 381.2L569.3 381.2ZM573.5 378.1L574.9 382.2L579.3 382.2L575.7 384.8L577.1 389.0L573.5 386.4L570.0 389.0L571.3 384.8L567.8 382.2L572.2 382.2ZM530.4 381.6L531.8 385.8L536.2 385.8L532.6 388.3L534.0 392.5L530.4 389.9L526.9 392.5L528.2 388.3L524.7 385.8L529.1 385.8ZM542.2 380.6L543.5 384.8L547.9 384.8L544.3 387.4L545.7 391.6L542.2 389.0L538.6 391.6L540.0 387.4L536.4 384.8L540.8 384.8ZM562.3 380.7L563.7 384.9L568.1 384.9L564.5 387.5L565.9 391.7L562.3 389.1L558.8 391.7L560.1 387.5L556.6 384.9L561.0 384.9ZM573.8 381.1L575.2 385.3L579.6 385.3L576.0 387.9L577.4 392.0L573.8 389.5L570.3 392.0L571.6 387.9L568.1 385.3L572.4 385.3ZM591.9 380.7L593.2 384.8L597.6 384.8L594.1 387.4L595.4 391.6L591.9 389.0L588.3 391.6L589.7 387.4L586.1 384.8L590.5 384.8ZM594.3 381.8L595.6 386.0L600.0 386.0L596.5 388.5L597.8 392.7L594.3 390.1L590.7 392.7L592.1 388.5L588.5 386.0L592.9 386.0Z"/>
<line x1="267.4" y1="284.6" x2="372.9" y2="330.3" stroke="#f00" stroke-width="6.9"/>
<rect x="130.3" y="30.4" width="509.0" height="407.1" fill="none" stroke="#000" stroke-width="2.5"/>
<g stroke="#000" stroke-width="2.5">
<line x1="234.8" y1="437.5" x2="234.8" y2="449.0"/>
<line x1="410.6" y1="437.5" x2="410.6" y2="449.0"/>
<line x1="586.3" y1="437.5" x2="586.3" y2="449.0"/>
<line x1="118.5" y1="392.1" x2="130.3" y2="392.1"/>
<line x1="118.5" y1="278.8" x2="130.3" y2="278.8"/>
<line x1="118.5" y1="165.8" x2="130.3" y2="165.8"/>
<line x1="118.5" y1="52.1" x2="130.3" y2="52.1"/>
</g>
<text filter="url(#gs)" x="234.8" y="486.2" font-size="35.00" text-anchor="middle" textLength="60.4" lengthAdjust="spacingAndGlyphs">100</text>
<text filter="url(#gs)" x="410.6" y="486.2" font-size="35.00" text-anchor="middle" textLength="60.4" lengthAdjust="spacingAndGlyphs">200</text>
<text filter="url(#gs)" x="586.3" y="486.2" font-size="35.00" text-anchor="middle" textLength="60.4" lengthAdjust="spacingAndGlyphs">300</text>
<text filter="url(#gs)" x="106.0" y="404.6" font-size="35.00" text-anchor="end" textLength="19.0" lengthAdjust="spacingAndGlyphs">0</text>
<text filter="url(#gs)" x="106.0" y="291.3" font-size="35.00" text-anchor="end" textLength="40.0" lengthAdjust="spacingAndGlyphs">50</text>
<text filter="url(#gs)" x="106.0" y="178.3" font-size="35.00" text-anchor="end" textLength="61.0" lengthAdjust="spacingAndGlyphs">100</text>
<text filter="url(#gs)" x="106.0" y="64.6" font-size="35.00" text-anchor="end" textLength="61.0" lengthAdjust="spacingAndGlyphs">150</text>
<text filter="url(#gs)" x="383.8" y="529.6" font-size="34.50" text-anchor="middle" textLength="217.0" lengthAdjust="spacingAndGlyphs">Tempo (bpm)</text>
<text filter="url(#gs)" x="25.0" y="233.7" font-size="34.50" text-anchor="middle" textLength="349.5" lengthAdjust="spacingAndGlyphs" transform="rotate(-90 25.0 233.7)">Downbeat delay (ms)</text>
<rect x="271.2" y="43.1" width="355.2" height="114.3" rx="5" ry="5" fill="#fff" fill-opacity="0.8" stroke="#ccc" stroke-opacity="0.85" stroke-width="2.9"/>
<path fill="#000" stroke="#000" stroke-width="3.3" stroke-linejoin="round" d="M307.7 60.5L309.1 64.7L313.5 64.7L309.9 67.3L311.3 71.5L307.7 68.9L304.1 71.5L305.5 67.3L301.9 64.7L306.3 64.7Z"/>
<line x1="278.1" y1="120.2" x2="337" y2="120.2" stroke="#f00" stroke-width="6.6"/>
<text filter="url(#gs)" x="354.8" y="73.3" font-size="26.60" textLength="184.8" lengthAdjust="spacingAndGlyphs">Average delay</text>
<text filter="url(#gs)" x="356.3" y="111.5" font-size="26.60" textLength="205.9" lengthAdjust="spacingAndGlyphs">Slope in studied</text>
<text filter="url(#gs)" x="363.4" y="141.1" font-size="26.60" textLength="250.7" lengthAdjust="spacingAndGlyphs">tempo range: -0.34</text>
<text filter="url(#gs)" x="-1.8" y="44.8" font-size="52.50" font-weight="bold" textLength="29.8" lengthAdjust="spacingAndGlyphs">a</text>
</g>
<g id="panelB">
<g stroke="#f5f5f5" stroke-width="2.2">
<line x1="944.0" y1="35.2" x2="944.0" y2="442.5"/>
<line x1="1119.6" y1="35.2" x2="1119.6" y2="442.5"/>
<line x1="1295.2" y1="35.2" x2="1295.2" y2="442.5"/>
<line x1="839.0" y1="408.1" x2="1348.1" y2="408.1"/>
<line x1="839.0" y1="321.3" x2="1348.1" y2="321.3"/>
<line x1="839.0" y1="234.4" x2="1348.1" y2="234.4"/>
<line x1="839.0" y1="147.6" x2="1348.1" y2="147.6"/>
<line x1="839.0" y1="60.8" x2="1348.1" y2="60.8"/>
</g>
<clipPath id="cb"><rect x="839.0" y="35.2" width="509.1" height="407.3"/></clipPath>
<path clip-path="url(#cb)" fill="#000" stroke="#000" stroke-width="2.5" stroke-linejoin="round" d="M853.7 40.8 L847.3 53.6 L860.1 53.6 ZM861.7 74.8 L855.3 87.6 L868.1 87.6 ZM912.6 87.5 L906.2 100.3 L919.0 100.3 ZM858.7 102.9 L852.3 115.7 L865.1 115.7 ZM874.9 125.9 L868.5 138.7 L881.3 138.7 ZM861.8 136.8 L855.4 149.6 L868.2 149.6 ZM892.6 130.9 L886.2 143.7 L899.0 143.7 ZM912.8 133.9 L906.4 146.7 L919.2 146.7 ZM1009.5 113.9 L1003.1 126.7 L1015.9 126.7 ZM874.3 151.2 L867.9 164.0 L880.7 164.0 ZM931.0 151.2 L924.6 164.0 L937.4 164.0 ZM1034.3 137.6 L1027.9 150.4 L1040.7 150.4 ZM992.5 148.5 L986.1 161.3 L998.9 161.3 ZM1000.2 154.5 L993.8 167.3 L1006.6 167.3 ZM978.7 160.1 L972.3 172.9 L985.1 172.9 ZM1012.0 157.4 L1005.6 170.2 L1018.4 170.2 ZM972.0 164.8 L965.6 177.6 L978.4 177.6 ZM986.9 155.9 L980.5 168.7 L993.3 168.7 ZM907.6 167.2 L901.2 180.0 L914.0 180.0 ZM918.7 171.5 L912.3 184.3 L925.1 184.3 ZM912.0 176.1 L905.6 188.9 L918.4 188.9 ZM875.0 180.4 L868.6 193.2 L881.4 193.2 ZM883.6 179.2 L877.2 192.0 L890.0 192.0 ZM929.5 189.4 L923.1 202.2 L935.9 202.2 ZM942.9 196.1 L936.5 208.9 L949.3 208.9 ZM954.7 189.4 L948.3 202.2 L961.1 202.2 ZM968.0 202.6 L961.6 215.4 L974.4 215.4 ZM854.3 242.0 L847.9 254.8 L860.7 254.8 ZM878.7 225.6 L872.3 238.4 L885.1 238.4 ZM900.9 224.1 L894.5 236.9 L907.3 236.9 ZM895.0 230.5 L888.6 243.3 L901.4 243.3 ZM873.5 237.9 L867.1 250.7 L879.9 250.7 ZM875.6 245.3 L869.2 258.1 L882.0 258.1 ZM880.9 249.7 L874.5 262.5 L887.3 262.5 ZM897.2 251.5 L890.8 264.3 L903.6 264.3 ZM916.5 239.3 L910.1 252.1 L922.9 252.1 ZM935.7 248.5 L929.3 261.3 L942.1 261.3 ZM931.3 252.7 L924.9 265.5 L937.7 265.5 ZM887.6 264.1 L881.2 276.9 L894.0 276.9 ZM891.3 269.7 L884.9 282.5 L897.7 282.5 ZM885.4 275.6 L879.0 288.4 L891.8 288.4 ZM894.3 277.1 L887.9 289.9 L900.7 289.9 ZM924.3 270.0 L917.9 282.8 L930.7 282.8 ZM946.1 258.9 L939.7 271.7 L952.5 271.7 ZM951.7 258.2 L945.3 271.0 L958.1 271.0 ZM954.3 264.5 L947.9 277.3 L960.7 277.3 ZM941.7 219.3 L935.3 232.1 L948.1 232.1 ZM954.3 222.3 L947.9 235.1 L960.7 235.1 ZM965.4 219.3 L959.0 232.1 L971.8 232.1 ZM979.4 220.8 L973.0 233.6 L985.8 233.6 ZM955.7 226.5 L949.3 239.3 L962.1 239.3 ZM969.8 233.7 L963.4 246.5 L976.2 246.5 ZM971.0 236.4 L964.6 249.2 L977.4 249.2 ZM940.2 280.4 L933.8 293.2 L946.6 293.2 ZM1051.0 145.4 L1044.6 158.2 L1057.4 158.2 ZM1056.1 160.0 L1049.7 172.8 L1062.5 172.8 ZM996.8 162.6 L990.4 175.4 L1003.2 175.4 ZM1012.2 160.2 L1005.8 173.0 L1018.6 173.0 ZM1038.3 169.1 L1031.9 181.9 L1044.7 181.9 ZM1059.6 171.5 L1053.2 184.3 L1066.0 184.3 ZM1059.6 175.8 L1053.2 188.6 L1066.0 188.6 ZM1093.4 178.8 L1087.0 191.6 L1099.8 191.6 ZM1025.3 179.4 L1018.9 192.2 L1031.7 192.2 ZM1010.4 182.1 L1004.0 194.9 L1016.8 194.9 ZM1000.7 182.9 L994.3 195.7 L1007.1 195.7 ZM982.9 180.0 L976.5 192.8 L989.3 192.8 ZM973.7 178.0 L967.3 190.8 L980.1 190.8 ZM969.0 187.5 L962.6 200.3 L975.4 200.3 ZM978.4 192.4 L972.0 205.2 L984.8 205.2 ZM1035.3 183.3 L1028.9 196.1 L1041.7 196.1 ZM1040.7 189.8 L1034.3 202.6 L1047.1 202.6 ZM1062.0 185.7 L1055.6 198.5 L1068.4 198.5 ZM1062.6 192.4 L1056.2 205.2 L1069.0 205.2 ZM1076.8 194.6 L1070.4 207.4 L1083.2 207.4 ZM1086.9 199.3 L1080.5 212.1 L1093.3 212.1 ZM1105.9 198.7 L1099.5 211.5 L1112.3 211.5 ZM1048.4 198.4 L1042.0 211.2 L1054.8 211.2 ZM1027.0 201.7 L1020.6 214.5 L1033.4 214.5 ZM1009.3 193.6 L1002.9 206.4 L1015.7 206.4 ZM995.6 200.5 L989.2 213.3 L1002.0 213.3 ZM1061.4 202.9 L1055.0 215.7 L1067.8 215.7 ZM1004.5 205.8 L998.1 218.6 L1010.9 218.6 ZM990.3 208.2 L983.9 221.0 L996.7 221.0 ZM1016.4 207.0 L1010.0 219.8 L1022.8 219.8 ZM995.6 201.9 L989.2 214.7 L1002.0 214.7 ZM1006.9 202.5 L1000.5 215.3 L1013.3 215.3 ZM1073.3 197.7 L1066.9 210.5 L1079.7 210.5 ZM1086.3 197.7 L1079.9 210.5 L1092.7 210.5 ZM1102.9 209.6 L1096.5 222.4 L1109.3 222.4 ZM990.3 211.4 L983.9 224.2 L996.7 224.2 ZM1003.9 220.9 L997.5 233.7 L1010.3 233.7 ZM1017.6 216.7 L1011.2 229.5 L1024.0 229.5 ZM1041.3 224.4 L1034.9 237.2 L1047.7 237.2 ZM1056.7 213.2 L1050.3 226.0 L1063.1 226.0 ZM1076.2 222.6 L1069.8 235.4 L1082.6 235.4 ZM1066.7 227.4 L1060.3 240.2 L1073.1 240.2 ZM1107.6 230.3 L1101.2 243.1 L1114.0 243.1 ZM1085.1 230.3 L1078.7 243.1 L1091.5 243.1 ZM969.0 236.9 L962.6 249.7 L975.4 249.7 ZM987.9 229.7 L981.5 242.5 L994.3 242.5 ZM993.3 229.2 L986.9 242.0 L999.7 242.0 ZM1021.1 230.9 L1014.7 243.7 L1027.5 243.7 ZM1030.6 234.5 L1024.2 247.3 L1037.0 247.3 ZM1063.8 238.0 L1057.4 250.8 L1070.2 250.8 ZM1073.3 236.9 L1066.9 249.7 L1079.7 249.7 ZM1092.2 239.2 L1085.8 252.0 L1098.6 252.0 ZM1080.4 240.4 L1074.0 253.2 L1086.8 253.2 ZM952.4 259.4 L946.0 272.2 L958.8 272.2 ZM973.7 251.1 L967.3 263.9 L980.1 263.9 ZM985.6 248.7 L979.2 261.5 L992.0 261.5 ZM999.8 246.3 L993.4 259.1 L1006.2 259.1 ZM1014.0 248.7 L1007.6 261.5 L1020.4 261.5 ZM1047.2 240.4 L1040.8 253.2 L1053.6 253.2 ZM1072.1 251.1 L1065.7 263.9 L1078.5 263.9 ZM1089.9 252.3 L1083.5 265.1 L1096.3 265.1 ZM1104.1 257.0 L1097.7 269.8 L1110.5 269.8 ZM1098.1 242.8 L1091.7 255.6 L1104.5 255.6 ZM1016.4 209.0 L1010.0 221.8 L1022.8 221.8 ZM1033.0 214.9 L1026.6 227.7 L1039.4 227.7 ZM1025.9 222.0 L1019.5 234.8 L1032.3 234.8 ZM1011.6 229.2 L1005.2 242.0 L1018.0 242.0 ZM1038.9 232.7 L1032.5 245.5 L1045.3 245.5 ZM1002.1 236.3 L995.7 249.1 L1008.5 249.1 ZM1021.1 243.4 L1014.7 256.2 L1027.5 256.2 ZM1033.0 246.9 L1026.6 259.7 L1039.4 259.7 ZM1044.8 249.3 L1038.4 262.1 L1051.2 262.1 ZM1056.7 255.2 L1050.3 268.0 L1063.1 268.0 ZM989.1 241.0 L982.7 253.8 L995.5 253.8 ZM1006.9 211.4 L1000.5 224.2 L1013.3 224.2 ZM1023.5 212.6 L1017.1 225.4 L1029.9 225.4 ZM1016.4 224.4 L1010.0 237.2 L1022.8 237.2 ZM1028.2 228.0 L1021.8 240.8 L1034.6 240.8 ZM1037.7 241.0 L1031.3 253.8 L1044.1 253.8 ZM1011.6 238.6 L1005.2 251.4 L1018.0 251.4 ZM995.0 235.1 L988.6 247.9 L1001.4 247.9 ZM1023.5 250.5 L1017.1 263.3 L1029.9 263.3 ZM1003.3 252.9 L996.9 265.7 L1009.7 265.7 ZM1139.5 184.0 L1133.1 196.8 L1145.9 196.8 ZM1244.6 186.1 L1238.2 198.9 L1251.0 198.9 ZM1194.5 204.7 L1188.1 217.5 L1200.9 217.5 ZM1136.9 190.4 L1130.5 203.2 L1143.3 203.2 ZM1217.7 213.2 L1211.3 226.0 L1224.1 226.0 ZM1182.7 220.3 L1176.3 233.1 L1189.1 233.1 ZM1154.9 221.2 L1148.5 234.0 L1161.3 234.0 ZM1233.7 227.5 L1227.3 240.3 L1240.1 240.3 ZM1171.1 232.2 L1164.7 245.0 L1177.5 245.0 ZM1197.2 237.3 L1190.8 250.1 L1203.6 250.1 ZM1200.1 238.7 L1193.7 251.5 L1206.5 251.5 ZM1242.2 241.7 L1235.8 254.5 L1248.6 254.5 ZM1236.3 250.6 L1229.9 263.4 L1242.7 263.4 ZM1110.1 203.7 L1103.7 216.5 L1116.5 216.5 ZM1106.5 210.3 L1100.1 223.1 L1112.9 223.1 ZM1128.2 219.7 L1121.8 232.5 L1134.6 232.5 ZM1127.5 230.4 L1121.1 243.2 L1133.9 243.2 ZM1135.6 244.6 L1129.2 257.4 L1142.0 257.4 ZM1117.8 247.0 L1111.4 259.8 L1124.2 259.8 ZM1148.9 245.6 L1142.5 258.4 L1155.3 258.4 ZM1156.3 245.2 L1149.9 258.0 L1162.7 258.0 ZM1162.2 247.6 L1155.8 260.4 L1168.6 260.4 ZM1168.5 255.5 L1162.1 268.3 L1174.9 268.3 ZM1152.1 262.0 L1145.7 274.8 L1158.5 274.8 ZM1155.1 262.6 L1148.7 275.4 L1161.5 275.4 ZM1182.0 262.9 L1175.6 275.7 L1188.4 275.7 ZM1190.3 261.7 L1183.9 274.5 L1196.7 274.5 ZM1178.8 272.1 L1172.4 284.9 L1185.2 284.9 ZM1199.3 279.2 L1192.9 292.0 L1205.7 292.0 ZM1171.1 284.6 L1164.7 297.4 L1177.5 297.4 ZM1157.2 284.6 L1150.8 297.4 L1163.6 297.4 ZM1183.6 289.9 L1177.2 302.7 L1190.0 302.7 ZM1193.6 286.3 L1187.2 299.1 L1200.0 299.1 ZM1201.9 289.3 L1195.5 302.1 L1208.3 302.1 ZM1209.0 295.2 L1202.6 308.0 L1215.4 308.0 ZM1239.3 254.3 L1232.9 267.1 L1245.7 267.1 ZM1229.2 268.6 L1222.8 281.4 L1235.6 281.4 ZM1235.1 269.2 L1228.7 282.0 L1241.5 282.0 ZM1222.1 275.7 L1215.7 288.5 L1228.5 288.5 ZM1220.3 279.2 L1213.9 292.0 L1226.7 292.0 ZM1257.6 285.2 L1251.2 298.0 L1264.0 298.0 ZM1255.3 295.2 L1248.9 308.0 L1261.7 308.0 ZM1114.8 247.2 L1108.4 260.0 L1121.2 260.0 ZM1123.7 258.8 L1117.3 271.6 L1130.1 271.6 ZM1129.6 263.8 L1123.2 276.6 L1136.0 276.6 ZM1135.6 273.3 L1129.2 286.1 L1142.0 286.1 ZM1119.6 271.5 L1113.2 284.3 L1126.0 284.3 ZM1108.3 276.9 L1101.9 289.7 L1114.7 289.7 ZM1115.4 279.2 L1109.0 292.0 L1121.8 292.0 ZM1136.1 279.2 L1129.7 292.0 L1142.5 292.0 ZM1139.7 285.7 L1133.3 298.5 L1146.1 298.5 ZM1127.3 295.2 L1120.9 308.0 L1133.7 308.0 ZM1102.4 293.5 L1096.0 306.3 L1108.8 306.3 ZM1151.6 299.4 L1145.2 312.2 L1158.0 312.2 ZM1018.1 265.5 L1011.7 278.3 L1024.5 278.3 ZM1037.7 268.5 L1031.3 281.3 L1044.1 281.3 ZM1061.8 273.8 L1055.4 286.6 L1068.2 286.6 ZM1083.3 273.8 L1076.9 286.6 L1089.7 286.6 ZM1078.6 266.9 L1072.2 279.7 L1085.0 279.7 ZM1052.5 289.2 L1046.1 302.0 L1058.9 302.0 ZM1034.1 285.7 L1027.7 298.5 L1040.5 298.5 ZM1026.4 291.6 L1020.0 304.4 L1032.8 304.4 ZM1011.6 288.0 L1005.2 300.8 L1018.0 300.8 ZM1082.7 292.2 L1076.3 305.0 L1089.1 305.0 ZM1077.4 296.9 L1071.0 309.7 L1083.8 309.7 ZM959.5 300.5 L953.1 313.3 L965.9 313.3 ZM969.0 288.0 L962.6 300.8 L975.4 300.8 ZM953.6 271.5 L947.2 284.3 L960.0 284.3 ZM967.8 260.8 L961.4 273.6 L974.2 273.6 ZM975.5 261.4 L969.1 274.2 L981.9 274.2 ZM969.0 270.9 L962.6 283.7 L975.4 283.7 ZM989.1 275.0 L982.7 287.8 L995.5 287.8 ZM993.9 282.7 L987.5 295.5 L1000.3 295.5 ZM1003.3 283.3 L996.9 296.1 L1009.7 296.1 ZM997.4 293.4 L991.0 306.2 L1003.8 306.2 ZM990.5 294.6 L984.1 307.4 L996.9 307.4 ZM972.5 290.4 L966.1 303.2 L978.9 303.2 ZM1006.9 298.1 L1000.5 310.9 L1013.3 310.9 ZM1024.1 308.2 L1017.7 321.0 L1030.5 321.0 ZM1040.1 303.5 L1033.7 316.3 L1046.5 316.3 ZM1062.0 310.6 L1055.6 323.4 L1068.4 323.4 ZM1073.3 308.2 L1066.9 321.0 L1079.7 321.0 ZM1094.6 312.9 L1088.2 325.7 L1101.0 325.7 ZM989.1 256.6 L982.7 269.4 L995.5 269.4 ZM999.8 260.2 L993.4 273.0 L1006.2 273.0 ZM979.6 256.6 L973.2 269.4 L986.0 269.4 ZM1028.2 257.8 L1021.8 270.6 L1034.6 270.6 ZM1042.4 258.4 L1036.0 271.2 L1048.8 271.2 ZM1016.4 256.6 L1010.0 269.4 L1022.8 269.4 ZM1087.5 260.2 L1081.1 273.0 L1093.9 273.0 ZM1098.1 248.3 L1091.7 261.1 L1104.5 261.1 ZM982.0 282.7 L975.6 295.5 L988.4 295.5 ZM1016.4 299.3 L1010.0 312.1 L1022.8 312.1 ZM1004.3 307.8 L997.9 320.6 L1010.7 320.6 ZM952.4 321.7 L946.0 334.5 L958.8 334.5 ZM956.2 331.9 L949.8 344.7 L962.6 344.7 ZM979.4 333.3 L973.0 346.1 L985.8 346.1 ZM988.5 339.2 L982.1 352.0 L994.9 352.0 ZM1000.4 342.8 L994.0 355.6 L1006.8 355.6 ZM994.4 322.6 L988.0 335.4 L1000.8 335.4 ZM1001.6 324.4 L995.2 337.2 L1008.0 337.2 ZM1011.4 334.5 L1005.0 347.3 L1017.8 347.3 ZM1021.1 322.6 L1014.7 335.4 L1027.5 335.4 ZM1025.9 325.6 L1019.5 338.4 L1032.3 338.4 ZM1036.5 335.4 L1030.1 348.2 L1042.9 348.2 ZM1043.0 336.6 L1036.6 349.4 L1049.4 349.4 ZM1059.0 325.0 L1052.6 337.8 L1065.4 337.8 ZM1062.8 335.7 L1056.4 348.5 L1069.2 348.5 ZM1074.4 320.3 L1068.0 333.1 L1080.8 333.1 ZM1077.2 326.4 L1070.8 339.2 L1083.6 339.2 ZM1091.0 331.5 L1084.6 344.3 L1097.4 344.3 ZM1106.4 328.6 L1100.0 341.4 L1112.8 341.4 ZM1109.4 309.0 L1103.0 321.8 L1115.8 321.8 ZM1106.4 344.6 L1100.0 357.4 L1112.8 357.4 ZM1109.4 350.5 L1103.0 363.3 L1115.8 363.3 ZM1073.3 345.7 L1066.9 358.5 L1079.7 358.5 ZM1077.1 344.8 L1070.7 357.6 L1083.5 357.6 ZM1070.9 349.9 L1064.5 362.7 L1077.3 362.7 ZM1091.6 352.3 L1085.2 365.1 L1098.0 365.1 ZM973.7 295.4 L967.3 308.2 L980.1 308.2 ZM1080.4 298.3 L1074.0 311.1 L1086.8 311.1 ZM1017.8 366.5 L1011.4 379.3 L1024.2 379.3 ZM1004.2 376.8 L997.8 389.6 L1010.6 389.6 ZM1022.7 383.9 L1016.3 396.7 L1029.1 396.7 ZM1073.9 373.5 L1067.5 386.3 L1080.3 386.3 ZM1089.3 368.5 L1082.9 381.3 L1095.7 381.3 ZM1093.8 377.4 L1087.4 390.2 L1100.2 390.2 ZM1084.5 390.2 L1078.1 403.0 L1090.9 403.0 ZM1106.4 365.5 L1100.0 378.3 L1112.8 378.3 ZM1104.7 370.3 L1098.3 383.1 L1111.1 383.1 ZM1109.4 376.2 L1103.0 389.0 L1115.8 389.0 ZM1114.8 306.5 L1108.4 319.3 L1121.2 319.3 ZM1114.5 309.1 L1108.1 321.9 L1120.9 321.9 ZM1135.6 298.4 L1129.2 311.2 L1142.0 311.2 ZM1140.3 314.4 L1133.9 327.2 L1146.7 327.2 ZM1159.9 309.7 L1153.5 322.5 L1166.3 322.5 ZM1156.3 315.0 L1149.9 327.8 L1162.7 327.8 ZM1193.4 295.5 L1187.0 308.3 L1199.8 308.3 ZM1212.4 300.2 L1206.0 313.0 L1218.8 313.0 ZM1196.6 312.6 L1190.2 325.4 L1203.0 325.4 ZM1201.9 317.4 L1195.5 330.2 L1208.3 330.2 ZM1189.1 324.5 L1182.7 337.3 L1195.5 337.3 ZM1177.6 332.2 L1171.2 345.0 L1184.0 345.0 ZM1210.2 328.0 L1203.8 340.8 L1216.6 340.8 ZM1164.6 338.5 L1158.2 351.3 L1171.0 351.3 ZM1196.0 336.3 L1189.6 349.1 L1202.4 349.1 ZM1205.5 342.3 L1199.1 355.1 L1211.9 355.1 ZM1237.1 313.6 L1230.7 326.4 L1243.5 326.4 ZM1247.6 311.5 L1241.2 324.3 L1254.0 324.3 ZM1236.3 325.1 L1229.9 337.9 L1242.7 337.9 ZM1249.1 324.5 L1242.7 337.3 L1255.5 337.3 ZM1226.8 333.4 L1220.4 346.2 L1233.2 346.2 ZM1241.0 334.0 L1234.6 346.8 L1247.4 346.8 ZM1219.7 345.2 L1213.3 358.0 L1226.1 358.0 ZM1224.4 341.1 L1218.0 353.9 L1230.8 353.9 ZM1259.4 341.1 L1253.0 353.9 L1265.8 353.9 ZM1118.4 339.9 L1112.0 352.7 L1124.8 352.7 ZM1122.5 339.3 L1116.1 352.1 L1128.9 352.1 ZM1132.0 342.3 L1125.6 355.1 L1138.4 355.1 ZM1139.7 339.7 L1133.3 352.5 L1146.1 352.5 ZM1152.7 348.2 L1146.3 361.0 L1159.1 361.0 ZM1183.6 352.3 L1177.2 365.1 L1190.0 365.1 ZM1194.2 353.5 L1187.8 366.3 L1200.6 366.3 ZM1097.6 312.0 L1091.2 324.8 L1104.0 324.8 ZM1113.6 347.8 L1107.2 360.6 L1120.0 360.6 ZM1117.8 358.5 L1111.4 371.3 L1124.2 371.3 ZM1114.2 373.9 L1107.8 386.7 L1120.6 386.7 ZM1134.4 356.1 L1128.0 368.9 L1140.8 368.9 ZM1140.9 368.6 L1134.5 381.4 L1147.3 381.4 ZM1164.9 358.3 L1158.5 371.1 L1171.3 371.1 ZM1173.7 356.7 L1167.3 369.5 L1180.1 369.5 ZM1171.1 363.2 L1164.7 376.0 L1177.5 376.0 ZM1174.7 367.7 L1168.3 380.5 L1181.1 380.5 ZM1182.6 372.9 L1176.2 385.7 L1189.0 385.7 ZM1190.1 384.2 L1183.7 397.0 L1196.5 397.0 ZM1199.6 371.2 L1193.2 384.0 L1206.0 384.0 ZM1206.4 373.3 L1200.0 386.1 L1212.8 386.1 ZM1207.9 384.0 L1201.5 396.8 L1214.3 396.8 ZM1222.1 361.7 L1215.7 374.5 L1228.5 374.5 ZM1218.9 367.6 L1212.5 380.4 L1225.3 380.4 ZM1244.6 368.0 L1238.2 380.8 L1251.0 380.8 ZM1255.3 365.6 L1248.9 378.4 L1261.7 378.4 ZM1255.3 379.2 L1248.9 392.0 L1261.7 392.0 ZM1258.8 347.8 L1252.4 360.6 L1265.2 360.6 ZM1211.4 401.2 L1205.0 414.0 L1217.8 414.0 ZM1241.0 402.9 L1234.6 415.7 L1247.4 415.7 ZM1259.4 397.0 L1253.0 409.8 L1265.8 409.8 ZM1232.7 412.3 L1226.3 425.1 L1239.1 425.1 ZM1250.5 409.6 L1244.1 422.4 L1256.9 422.4 ZM1239.5 425.0 L1233.1 437.8 L1245.9 437.8 ZM1284.8 254.9 L1278.4 267.7 L1291.2 267.7 ZM1278.3 264.0 L1271.9 276.8 L1284.7 276.8 ZM1296.7 268.8 L1290.3 281.6 L1303.1 281.6 ZM1269.4 274.1 L1263.0 286.9 L1275.8 286.9 ZM1265.9 282.6 L1259.5 295.4 L1272.3 295.4 ZM1275.3 275.8 L1268.9 288.6 L1281.7 288.6 ZM1270.4 299.8 L1264.0 312.6 L1276.8 312.6 ZM1284.5 300.4 L1278.1 313.2 L1290.9 313.2 ZM1294.3 302.2 L1287.9 315.0 L1300.7 315.0 ZM1302.0 309.3 L1295.6 322.1 L1308.4 322.1 ZM1309.7 312.3 L1303.3 325.1 L1316.1 325.1 ZM1292.5 312.9 L1286.1 325.7 L1298.9 325.7 ZM1294.3 316.9 L1287.9 329.7 L1300.7 329.7 ZM1316.5 322.6 L1310.1 335.4 L1322.9 335.4 ZM1319.8 338.6 L1313.4 351.4 L1326.2 351.4 ZM1321.9 344.1 L1315.5 356.9 L1328.3 356.9 ZM1284.2 333.2 L1277.8 346.0 L1290.6 346.0 ZM1294.3 340.9 L1287.9 353.7 L1300.7 353.7 ZM1262.1 338.3 L1255.7 351.1 L1268.5 351.1 ZM1262.9 346.9 L1256.5 359.7 L1269.3 359.7 ZM1278.3 353.4 L1271.9 366.2 L1284.7 366.2 ZM1267.6 356.9 L1261.2 369.7 L1274.0 369.7 ZM1280.7 360.5 L1274.3 373.3 L1287.1 373.3 ZM1269.4 365.5 L1263.0 378.3 L1275.8 378.3 ZM1280.1 366.0 L1273.7 378.8 L1286.5 378.8 ZM1273.6 373.5 L1267.2 386.3 L1280.0 386.3 ZM1283.0 382.0 L1276.6 394.8 L1289.4 394.8 ZM1291.3 382.4 L1284.9 395.2 L1297.7 395.2 ZM1295.5 388.9 L1289.1 401.7 L1301.9 401.7 ZM1287.4 400.4 L1281.0 413.2 L1293.8 413.2 ZM1307.1 398.0 L1300.7 410.8 L1313.5 410.8 ZM1330.1 386.4 L1323.7 399.2 L1336.5 399.2 ZM1328.1 392.9 L1321.7 405.7 L1334.5 405.7 ZM1262.5 392.4 L1256.1 405.2 L1268.9 405.2 ZM1300.8 434.5 L1294.4 447.3 L1307.2 447.3 ZM1315.0 431.3 L1308.6 444.1 L1321.4 444.1 ZM881.5 284.7 L875.1 297.5 L887.9 297.5 ZM874.7 300.2 L868.3 313.0 L881.1 313.0 ZM891.7 307.0 L885.3 319.8 L898.1 319.8 ZM912.6 293.6 L906.2 306.4 L919.0 306.4 ZM941.7 285.6 L935.3 298.4 L948.1 298.4 ZM956.5 275.3 L950.1 288.1 L962.9 288.1 ZM952.3 280.8 L945.9 293.6 L958.7 293.6 ZM932.2 306.7 L925.8 319.5 L938.6 319.5 ZM939.9 304.3 L933.5 317.1 L946.3 317.1 ZM915.9 320.5 L909.5 333.3 L922.3 333.3 ZM943.4 322.7 L937.0 335.5 L949.8 335.5 ZM874.7 334.2 L868.3 347.0 L881.1 347.0 ZM875.1 344.2 L868.7 357.0 L881.5 357.0 ZM866.1 352.3 L859.7 365.1 L872.5 365.1 ZM943.2 374.9 L936.8 387.7 L949.6 387.7 ZM995.9 270.3 L989.5 283.1 L1002.3 283.1 ZM999.4 277.8 L993.0 290.6 L1005.8 290.6 ZM1002.1 262.7 L995.7 275.5 L1008.5 275.5 ZM992.3 282.7 L985.9 295.5 L998.7 295.5 Z"/>
<line x1="976.4" y1="241.8" x2="1086.2" y2="274.9" stroke="#f00" stroke-width="6.6"/>
<rect x="839.0" y="35.2" width="509.1" height="407.3" fill="none" stroke="#000" stroke-width="2.5"/>
<g stroke="#000" stroke-width="2.5">
<line x1="944.0" y1="442.5" x2="944.0" y2="454.0"/>
<line x1="1119.6" y1="442.5" x2="1119.6" y2="454.0"/>
<line x1="1295.2" y1="442.5" x2="1295.2" y2="454.0"/>
<line x1="827.2" y1="408.1" x2="839.0" y2="408.1"/>
<line x1="827.2" y1="321.3" x2="839.0" y2="321.3"/>
<line x1="827.2" y1="234.4" x2="839.0" y2="234.4"/>
<line x1="827.2" y1="147.6" x2="839.0" y2="147.6"/>
<line x1="827.2" y1="60.8" x2="839.0" y2="60.8"/>
</g>
<text filter="url(#gs)" x="944.0" y="491.2" font-size="35.00" text-anchor="middle" textLength="60.4" lengthAdjust="spacingAndGlyphs">100</text>
<text filter="url(#gs)" x="1119.6" y="491.2" font-size="35.00" text-anchor="middle" textLength="60.4" lengthAdjust="spacingAndGlyphs">200</text>
<text filter="url(#gs)" x="1295.2" y="491.2" font-size="35.00" text-anchor="middle" textLength="60.4" lengthAdjust="spacingAndGlyphs">300</text>
<text filter="url(#gs)" x="814.7" y="420.6" font-size="35.00" text-anchor="end" textLength="19.0" lengthAdjust="spacingAndGlyphs">0</text>
<text filter="url(#gs)" x="814.7" y="333.8" font-size="35.00" text-anchor="end" textLength="40.0" lengthAdjust="spacingAndGlyphs">50</text>
<text filter="url(#gs)" x="814.7" y="246.9" font-size="35.00" text-anchor="end" textLength="61.0" lengthAdjust="spacingAndGlyphs">100</text>
<text filter="url(#gs)" x="814.7" y="160.1" font-size="35.00" text-anchor="end" textLength="61.0" lengthAdjust="spacingAndGlyphs">150</text>
<text filter="url(#gs)" x="814.7" y="73.3" font-size="35.00" text-anchor="end" textLength="61.0" lengthAdjust="spacingAndGlyphs">200</text>
<text filter="url(#gs)" x="1093.0" y="534.6" font-size="34.50" text-anchor="middle" textLength="217.0" lengthAdjust="spacingAndGlyphs">Tempo (bpm)</text>
<text filter="url(#gs)" x="733.4" y="239.0" font-size="34.50" text-anchor="middle" textLength="377.0" lengthAdjust="spacingAndGlyphs" transform="rotate(-90 733.4 239.0)">Downbeat delay (ticks)</text>
<rect x="1040.8" y="46.7" width="295.6" height="99.6" rx="5" ry="5" fill="#fff" fill-opacity="0.8" stroke="#ccc" stroke-opacity="0.85" stroke-width="2.9"/>
<path fill="#000" stroke="#000" stroke-width="2.5" stroke-linejoin="round" d="M1072.7 60.6 L1066.3 73.4 L1079.1 73.4 Z"/>
<line x1="1046.6" y1="113.95" x2="1098.7" y2="113.95" stroke="#f00" stroke-width="6.3"/>
<text filter="url(#gs)" x="1114.1" y="73.3" font-size="23.30" textLength="161.2" lengthAdjust="spacingAndGlyphs">Average delay</text>
<text filter="url(#gs)" x="1114.7" y="106.5" font-size="23.30" textLength="180.6" lengthAdjust="spacingAndGlyphs">Slope in studied</text>
<text filter="url(#gs)" x="1121.6" y="132.3" font-size="23.30" textLength="204.2" lengthAdjust="spacingAndGlyphs">tempo range: -0.3</text>
<text filter="url(#gs)" x="708.3" y="37.9" font-size="52.00" font-weight="bold" textLength="34.5" lengthAdjust="spacingAndGlyphs">b</text>
</g>
</svg></body></html>
